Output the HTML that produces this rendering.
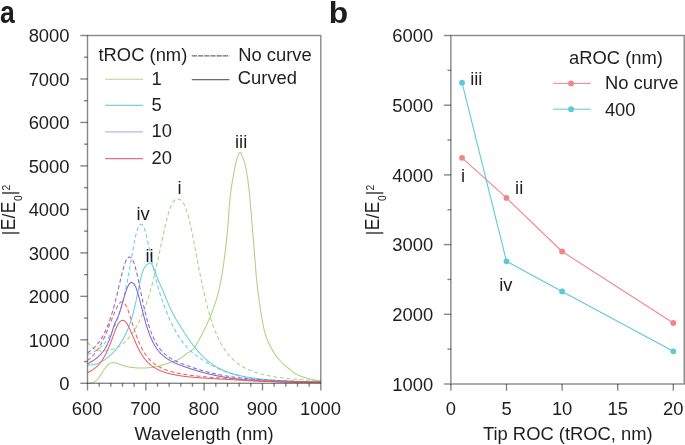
<!DOCTYPE html><html><head><meta charset="utf-8"><style>html,body{margin:0;padding:0;background:#fff;overflow:hidden}svg{display:block;will-change:transform;font-family:"Liberation Sans",sans-serif}</style></head><body><svg width="685" height="445" viewBox="0 0 685 445" fill="#1e1e1e">
<rect width="685" height="445" fill="#fff"/>
<clipPath id="ca"><rect x="87.5" y="35.5" width="233.3" height="348.3"/></clipPath>
<g clip-path="url(#ca)" fill="none" stroke-width="1.05">
<path d="M87.50,383.65 L87.97,383.59 L88.44,383.53 L88.90,383.46 L89.37,383.38 L89.84,383.30 L90.31,383.21 L90.77,383.12 L91.24,383.02 L91.71,382.91 L92.18,382.78 L92.64,382.61 L93.11,382.41 L93.58,382.17 L94.05,381.91 L94.51,381.64 L94.98,381.34 L95.45,381.00 L95.92,380.63 L96.38,380.23 L96.85,379.80 L97.32,379.35 L97.79,378.85 L98.25,378.32 L98.72,377.76 L99.19,377.18 L99.66,376.59 L100.12,375.96 L100.59,375.30 L101.06,374.61 L101.53,373.91 L101.99,373.16 L102.46,372.35 L102.93,371.53 L103.40,370.74 L103.86,369.99 L104.33,369.28 L104.80,368.59 L105.27,367.93 L105.73,367.31 L106.20,366.74 L106.67,366.19 L107.14,365.67 L107.60,365.18 L108.07,364.74 L108.54,364.36 L109.01,364.00 L109.47,363.66 L109.94,363.36 L110.41,363.11 L110.88,362.94 L111.34,362.81 L111.81,362.69 L112.28,362.62 L112.75,362.61 L113.21,362.65 L113.68,362.71 L114.15,362.80 L114.62,362.90 L115.08,362.99 L115.55,363.09 L116.02,363.21 L116.49,363.34 L116.95,363.48 L117.42,363.62 L117.89,363.75 L118.36,363.89 L118.82,364.02 L119.29,364.16 L119.76,364.31 L120.23,364.45 L120.69,364.61 L121.16,364.77 L121.63,364.93 L122.10,365.10 L122.57,365.27 L123.03,365.43 L123.50,365.59 L123.97,365.74 L124.44,365.88 L124.90,366.01 L125.37,366.15 L125.84,366.28 L126.31,366.41 L126.77,366.53 L127.24,366.65 L127.71,366.76 L128.18,366.86 L128.64,366.95 L129.11,367.03 L129.58,367.10 L130.05,367.18 L130.51,367.24 L130.98,367.31 L131.45,367.37 L131.92,367.42 L132.38,367.48 L132.85,367.53 L133.32,367.57 L133.79,367.62 L134.25,367.66 L134.72,367.70 L135.19,367.73 L135.66,367.77 L136.12,367.80 L136.59,367.83 L137.06,367.86 L137.53,367.88 L137.99,367.90 L138.46,367.92 L138.93,367.93 L139.40,367.95 L139.86,367.96 L140.33,367.97 L140.80,367.98 L141.27,367.99 L141.73,367.99 L142.20,368.00 L142.67,368.00 L143.14,367.99 L143.60,367.98 L144.07,367.96 L144.54,367.95 L145.01,367.93 L145.47,367.91 L145.94,367.89 L146.41,367.87 L146.88,367.84 L147.34,367.82 L147.81,367.79 L148.28,367.75 L148.75,367.72 L149.21,367.68 L149.68,367.64 L150.15,367.59 L150.62,367.55 L151.08,367.50 L151.55,367.45 L152.02,367.40 L152.49,367.34 L152.95,367.28 L153.42,367.22 L153.89,367.15 L154.36,367.08 L154.83,367.01 L155.29,366.93 L155.76,366.85 L156.23,366.76 L156.70,366.67 L157.16,366.57 L157.63,366.46 L158.10,366.35 L158.57,366.24 L159.03,366.12 L159.50,366.00 L159.97,365.87 L160.44,365.73 L160.90,365.58 L161.37,365.42 L161.84,365.25 L162.31,365.08 L162.77,364.91 L163.24,364.75 L163.71,364.58 L164.18,364.43 L164.64,364.28 L165.11,364.13 L165.58,363.98 L166.05,363.83 L166.51,363.68 L166.98,363.54 L167.45,363.39 L167.92,363.24 L168.38,363.09 L168.85,362.94 L169.32,362.79 L169.79,362.64 L170.25,362.49 L170.72,362.33 L171.19,362.18 L171.66,362.03 L172.12,361.87 L172.59,361.71 L173.06,361.56 L173.53,361.41 L173.99,361.25 L174.46,361.10 L174.93,360.95 L175.40,360.79 L175.86,360.63 L176.33,360.45 L176.80,360.27 L177.27,360.06 L177.73,359.85 L178.20,359.61 L178.67,359.35 L179.14,359.08 L179.60,358.79 L180.07,358.49 L180.54,358.18 L181.01,357.86 L181.47,357.53 L181.94,357.20 L182.41,356.85 L182.88,356.51 L183.34,356.16 L183.81,355.82 L184.28,355.48 L184.75,355.13 L185.21,354.80 L185.68,354.47 L186.15,354.15 L186.62,353.84 L187.08,353.53 L187.55,353.23 L188.02,352.93 L188.49,352.63 L188.96,352.32 L189.42,352.01 L189.89,351.69 L190.36,351.36 L190.83,351.01 L191.29,350.65 L191.76,350.27 L192.23,349.88 L192.70,349.46 L193.16,349.01 L193.63,348.54 L194.10,348.02 L194.57,347.43 L195.03,346.78 L195.50,346.07 L195.97,345.32 L196.44,344.54 L196.90,343.72 L197.37,342.89 L197.84,342.04 L198.31,341.19 L198.77,340.35 L199.24,339.52 L199.71,338.70 L200.18,337.85 L200.64,336.99 L201.11,336.11 L201.58,335.22 L202.05,334.32 L202.51,333.40 L202.98,332.47 L203.45,331.53 L203.92,330.58 L204.38,329.61 L204.85,328.63 L205.32,327.65 L205.79,326.65 L206.25,325.64 L206.72,324.62 L207.19,323.59 L207.66,322.55 L208.12,321.50 L208.59,320.44 L209.06,319.36 L209.53,318.27 L209.99,317.17 L210.46,316.05 L210.93,314.92 L211.40,313.76 L211.86,312.58 L212.33,311.38 L212.80,310.16 L213.27,308.90 L213.73,307.61 L214.20,306.29 L214.67,304.93 L215.14,303.52 L215.60,302.07 L216.07,300.56 L216.54,299.00 L217.01,297.37 L217.47,295.67 L217.94,293.90 L218.41,292.05 L218.88,290.11 L219.34,288.07 L219.81,285.94 L220.28,283.69 L220.75,281.33 L221.22,278.84 L221.68,276.23 L222.15,273.47 L222.62,270.57 L223.09,267.52 L223.55,264.31 L224.02,260.94 L224.49,257.40 L224.96,253.70 L225.42,249.83 L225.89,245.79 L226.36,241.60 L226.83,237.34 L227.29,232.85 L227.76,227.73 L228.23,221.73 L228.70,215.26 L229.16,208.78 L229.63,202.75 L230.10,197.63 L230.57,193.56 L231.03,189.93 L231.50,186.63 L231.97,183.59 L232.44,180.74 L232.90,178.00 L233.37,175.31 L233.84,172.66 L234.31,170.09 L234.77,167.63 L235.24,165.33 L235.71,163.22 L236.18,161.34 L236.64,159.65 L237.11,158.11 L237.58,156.74 L238.05,155.60 L238.51,154.57 L238.98,153.56 L239.45,152.72 L239.92,152.20 L240.38,152.17 L240.85,152.87 L241.32,154.01 L241.79,155.27 L242.25,156.36 L242.72,157.41 L243.19,158.51 L243.66,159.72 L244.12,161.09 L244.59,162.67 L245.06,164.49 L245.53,166.55 L245.99,168.83 L246.46,171.32 L246.93,174.00 L247.40,176.86 L247.86,180.13 L248.33,183.85 L248.80,187.93 L249.27,192.28 L249.73,196.81 L250.20,201.78 L250.67,207.22 L251.14,212.85 L251.60,218.46 L252.07,224.21 L252.54,230.04 L253.01,235.87 L253.47,241.57 L253.94,247.18 L254.41,252.77 L254.88,258.40 L255.35,264.27 L255.81,270.43 L256.28,276.30 L256.75,281.29 L257.22,285.58 L257.68,289.47 L258.15,293.09 L258.62,296.54 L259.09,299.95 L259.55,303.35 L260.02,306.66 L260.49,309.84 L260.96,312.86 L261.42,315.68 L261.89,318.38 L262.36,321.03 L262.83,323.58 L263.29,325.98 L263.76,328.21 L264.23,330.21 L264.70,331.95 L265.16,333.52 L265.63,334.99 L266.10,336.37 L266.57,337.67 L267.03,338.89 L267.50,340.05 L267.97,341.15 L268.44,342.21 L268.90,343.24 L269.37,344.24 L269.84,345.21 L270.31,346.16 L270.77,347.08 L271.24,347.97 L271.71,348.83 L272.18,349.67 L272.64,350.48 L273.11,351.27 L273.58,352.03 L274.05,352.77 L274.51,353.49 L274.98,354.19 L275.45,354.87 L275.92,355.53 L276.38,356.18 L276.85,356.80 L277.32,357.41 L277.79,358.00 L278.25,358.58 L278.72,359.14 L279.19,359.69 L279.66,360.23 L280.12,360.75 L280.59,361.25 L281.06,361.75 L281.53,362.23 L281.99,362.71 L282.46,363.16 L282.93,363.61 L283.40,364.04 L283.86,364.47 L284.33,364.88 L284.80,365.28 L285.27,365.68 L285.73,366.08 L286.20,366.46 L286.67,366.85 L287.14,367.23 L287.61,367.61 L288.07,367.98 L288.54,368.36 L289.01,368.75 L289.48,369.14 L289.94,369.53 L290.41,369.92 L290.88,370.31 L291.35,370.70 L291.81,371.09 L292.28,371.46 L292.75,371.83 L293.22,372.20 L293.68,372.55 L294.15,372.88 L294.62,373.21 L295.09,373.52 L295.55,373.81 L296.02,374.08 L296.49,374.33 L296.96,374.57 L297.42,374.79 L297.89,375.01 L298.36,375.22 L298.83,375.42 L299.29,375.61 L299.76,375.80 L300.23,375.98 L300.70,376.16 L301.16,376.33 L301.63,376.49 L302.10,376.65 L302.57,376.81 L303.03,376.96 L303.50,377.11 L303.97,377.26 L304.44,377.40 L304.90,377.54 L305.37,377.68 L305.84,377.82 L306.31,377.95 L306.77,378.08 L307.24,378.21 L307.71,378.33 L308.18,378.45 L308.64,378.57 L309.11,378.68 L309.58,378.80 L310.05,378.91 L310.51,379.02 L310.98,379.13 L311.45,379.23 L311.92,379.34 L312.38,379.45 L312.85,379.55 L313.32,379.65 L313.79,379.76 L314.25,379.86 L314.72,379.96 L315.19,380.05 L315.66,380.15 L316.12,380.25 L316.59,380.34 L317.06,380.43 L317.53,380.53 L317.99,380.62 L318.46,380.71 L318.93,380.79 L319.40,380.88 L319.86,380.96 L320.33,381.05 L320.80,381.13" stroke="#a8d47e"/>
<path d="M87.50,342.52 L87.97,343.07 L88.44,343.60 L88.90,344.12 L89.37,344.63 L89.84,345.13 L90.31,345.61 L90.77,346.07 L91.24,346.51 L91.71,346.93 L92.18,347.33 L92.64,347.71 L93.11,348.07 L93.58,348.40 L94.05,348.71 L94.51,349.00 L94.98,349.27 L95.45,349.51 L95.92,349.73 L96.38,349.93 L96.85,350.11 L97.32,350.28 L97.79,350.42 L98.25,350.55 L98.72,350.66 L99.19,350.75 L99.66,350.83 L100.12,350.90 L100.59,350.95 L101.06,350.99 L101.53,351.02 L101.99,351.04 L102.46,351.05 L102.93,351.04 L103.40,351.03 L103.86,351.01 L104.33,350.98 L104.80,350.95 L105.27,350.90 L105.73,350.85 L106.20,350.80 L106.67,350.73 L107.14,350.66 L107.60,350.58 L108.07,350.50 L108.54,350.41 L109.01,350.31 L109.47,350.20 L109.94,350.09 L110.41,349.97 L110.88,349.85 L111.34,349.71 L111.81,349.57 L112.28,349.42 L112.75,349.27 L113.21,349.11 L113.68,348.93 L114.15,348.76 L114.62,348.57 L115.08,348.37 L115.55,348.17 L116.02,347.95 L116.49,347.73 L116.95,347.50 L117.42,347.26 L117.89,347.00 L118.36,346.74 L118.82,346.47 L119.29,346.19 L119.76,345.90 L120.23,345.60 L120.69,345.28 L121.16,344.96 L121.63,344.62 L122.10,344.28 L122.57,343.92 L123.03,343.55 L123.50,343.17 L123.97,342.77 L124.44,342.36 L124.90,341.95 L125.37,341.51 L125.84,341.07 L126.31,340.61 L126.77,340.13 L127.24,339.65 L127.71,339.14 L128.18,338.63 L128.64,338.10 L129.11,337.55 L129.58,336.99 L130.05,336.41 L130.51,335.81 L130.98,335.20 L131.45,334.57 L131.92,333.93 L132.38,333.27 L132.85,332.58 L133.32,331.89 L133.79,331.17 L134.25,330.43 L134.72,329.68 L135.19,328.90 L135.66,328.11 L136.12,327.29 L136.59,326.46 L137.06,325.60 L137.53,324.73 L137.99,323.83 L138.46,322.91 L138.93,321.97 L139.40,321.00 L139.86,320.02 L140.33,319.00 L140.80,317.97 L141.27,316.91 L141.73,315.83 L142.20,314.72 L142.67,313.59 L143.14,312.43 L143.60,311.24 L144.07,310.03 L144.54,308.79 L145.01,307.53 L145.47,306.23 L145.94,304.91 L146.41,303.55 L146.88,302.17 L147.34,300.76 L147.81,299.31 L148.28,297.83 L148.75,296.32 L149.21,294.78 L149.68,293.20 L150.15,291.59 L150.62,289.95 L151.08,288.27 L151.55,286.55 L152.02,284.80 L152.49,283.02 L152.95,281.19 L153.42,279.34 L153.89,277.45 L154.36,275.52 L154.83,273.56 L155.29,271.56 L155.76,269.54 L156.23,267.48 L156.70,265.40 L157.16,263.28 L157.63,261.14 L158.10,258.98 L158.57,256.80 L159.03,254.60 L159.50,252.39 L159.97,250.16 L160.44,247.93 L160.90,245.70 L161.37,243.46 L161.84,241.23 L162.31,239.01 L162.77,236.81 L163.24,234.63 L163.71,232.47 L164.18,230.34 L164.64,228.25 L165.11,226.19 L165.58,224.19 L166.05,222.23 L166.51,220.34 L166.98,218.50 L167.45,216.73 L167.92,215.03 L168.38,213.41 L168.85,211.86 L169.32,210.40 L169.79,209.03 L170.25,207.74 L170.72,206.54 L171.19,205.44 L171.66,204.43 L172.12,203.51 L172.59,202.69 L173.06,201.96 L173.53,201.32 L173.99,200.77 L174.46,200.31 L174.93,199.93 L175.40,199.64 L175.86,199.41 L176.33,199.26 L176.80,199.17 L177.27,199.14 L177.73,199.15 L178.20,199.20 L178.67,199.26 L179.14,199.35 L179.60,199.48 L180.07,199.66 L180.54,199.90 L181.01,200.21 L181.47,200.59 L181.94,201.05 L182.41,201.59 L182.88,202.22 L183.34,202.94 L183.81,203.75 L184.28,204.66 L184.75,205.66 L185.21,206.76 L185.68,207.96 L186.15,209.25 L186.62,210.63 L187.08,212.11 L187.55,213.68 L188.02,215.34 L188.49,217.08 L188.96,218.91 L189.42,220.81 L189.89,222.78 L190.36,224.82 L190.83,226.93 L191.29,229.10 L191.76,231.32 L192.23,233.58 L192.70,235.89 L193.16,238.24 L193.63,240.62 L194.10,243.03 L194.57,245.46 L195.03,247.91 L195.50,250.37 L195.97,252.84 L196.44,255.31 L196.90,257.78 L197.37,260.24 L197.84,262.70 L198.31,265.14 L198.77,267.57 L199.24,269.97 L199.71,272.36 L200.18,274.72 L200.64,277.05 L201.11,279.35 L201.58,281.63 L202.05,283.86 L202.51,286.07 L202.98,288.24 L203.45,290.37 L203.92,292.46 L204.38,294.52 L204.85,296.53 L205.32,298.51 L205.79,300.44 L206.25,302.34 L206.72,304.19 L207.19,306.01 L207.66,307.78 L208.12,309.51 L208.59,311.21 L209.06,312.86 L209.53,314.48 L209.99,316.06 L210.46,317.59 L210.93,319.10 L211.40,320.56 L211.86,321.99 L212.33,323.38 L212.80,324.74 L213.27,326.06 L213.73,327.35 L214.20,328.60 L214.67,329.83 L215.14,331.02 L215.60,332.18 L216.07,333.31 L216.54,334.41 L217.01,335.48 L217.47,336.53 L217.94,337.55 L218.41,338.54 L218.88,339.50 L219.34,340.44 L219.81,341.36 L220.28,342.25 L220.75,343.12 L221.22,343.96 L221.68,344.79 L222.15,345.59 L222.62,346.37 L223.09,347.13 L223.55,347.88 L224.02,348.60 L224.49,349.30 L224.96,349.99 L225.42,350.66 L225.89,351.31 L226.36,351.95 L226.83,352.57 L227.29,353.17 L227.76,353.76 L228.23,354.33 L228.70,354.89 L229.16,355.44 L229.63,355.97 L230.10,356.49 L230.57,356.99 L231.03,357.49 L231.50,357.97 L231.97,358.44 L232.44,358.90 L232.90,359.35 L233.37,359.78 L233.84,360.21 L234.31,360.63 L234.77,361.03 L235.24,361.43 L235.71,361.82 L236.18,362.20 L236.64,362.57 L237.11,362.93 L237.58,363.28 L238.05,363.62 L238.51,363.96 L238.98,364.29 L239.45,364.61 L239.92,364.93 L240.38,365.24 L240.85,365.54 L241.32,365.83 L241.79,366.12 L242.25,366.40 L242.72,366.67 L243.19,366.94 L243.66,367.21 L244.12,367.46 L244.59,367.72 L245.06,367.96 L245.53,368.21 L245.99,368.44 L246.46,368.67 L246.93,368.90 L247.40,369.12 L247.86,369.34 L248.33,369.55 L248.80,369.76 L249.27,369.96 L249.73,370.16 L250.20,370.36 L250.67,370.55 L251.14,370.74 L251.60,370.93 L252.07,371.11 L252.54,371.28 L253.01,371.46 L253.47,371.63 L253.94,371.79 L254.41,371.96 L254.88,372.12 L255.35,372.28 L255.81,372.43 L256.28,372.58 L256.75,372.73 L257.22,372.88 L257.68,373.02 L258.15,373.16 L258.62,373.30 L259.09,373.43 L259.55,373.57 L260.02,373.70 L260.49,373.82 L260.96,373.95 L261.42,374.07 L261.89,374.20 L262.36,374.31 L262.83,374.43 L263.29,374.55 L263.76,374.66 L264.23,374.77 L264.70,374.88 L265.16,374.99 L265.63,375.09 L266.10,375.19 L266.57,375.29 L267.03,375.39 L267.50,375.49 L267.97,375.59 L268.44,375.68 L268.90,375.78 L269.37,375.87 L269.84,375.96 L270.31,376.05 L270.77,376.13 L271.24,376.22 L271.71,376.30 L272.18,376.39 L272.64,376.47 L273.11,376.55 L273.58,376.63 L274.05,376.71 L274.51,376.78 L274.98,376.86 L275.45,376.93 L275.92,377.00 L276.38,377.08 L276.85,377.15 L277.32,377.22 L277.79,377.28 L278.25,377.35 L278.72,377.42 L279.19,377.48 L279.66,377.55 L280.12,377.61 L280.59,377.67 L281.06,377.73 L281.53,377.79 L281.99,377.85 L282.46,377.91 L282.93,377.97 L283.40,378.03 L283.86,378.08 L284.33,378.14 L284.80,378.19 L285.27,378.25 L285.73,378.30 L286.20,378.35 L286.67,378.40 L287.14,378.45 L287.61,378.50 L288.07,378.55 L288.54,378.60 L289.01,378.65 L289.48,378.70 L289.94,378.74 L290.41,378.79 L290.88,378.83 L291.35,378.88 L291.81,378.92 L292.28,378.97 L292.75,379.01 L293.22,379.05 L293.68,379.09 L294.15,379.13 L294.62,379.17 L295.09,379.21 L295.55,379.25 L296.02,379.29 L296.49,379.33 L296.96,379.37 L297.42,379.41 L297.89,379.44 L298.36,379.48 L298.83,379.52 L299.29,379.55 L299.76,379.59 L300.23,379.62 L300.70,379.65 L301.16,379.69 L301.63,379.72 L302.10,379.75 L302.57,379.79 L303.03,379.82 L303.50,379.85 L303.97,379.88 L304.44,379.91 L304.90,379.94 L305.37,379.97 L305.84,380.00 L306.31,380.03 L306.77,380.06 L307.24,380.09 L307.71,380.12 L308.18,380.15 L308.64,380.17 L309.11,380.20 L309.58,380.23 L310.05,380.25 L310.51,380.28 L310.98,380.31 L311.45,380.33 L311.92,380.36 L312.38,380.38 L312.85,380.41 L313.32,380.43 L313.79,380.45 L314.25,380.48 L314.72,380.50 L315.19,380.53 L315.66,380.55 L316.12,380.57 L316.59,380.59 L317.06,380.62 L317.53,380.64 L317.99,380.66 L318.46,380.68 L318.93,380.70 L319.40,380.72 L319.86,380.74 L320.33,380.76 L320.80,380.79" stroke="#a8d47e" stroke-dasharray="4,2.6"/>
<path d="M87.50,354.27 L87.97,354.16 L88.44,354.04 L88.90,353.90 L89.37,353.76 L89.84,353.62 L90.31,353.46 L90.77,353.29 L91.24,353.11 L91.71,352.93 L92.18,352.73 L92.64,352.52 L93.11,352.30 L93.58,352.07 L94.05,351.83 L94.51,351.58 L94.98,351.32 L95.45,351.05 L95.92,350.76 L96.38,350.47 L96.85,350.16 L97.32,349.84 L97.79,349.50 L98.25,349.16 L98.72,348.80 L99.19,348.42 L99.66,348.04 L100.12,347.64 L100.59,347.23 L101.06,346.80 L101.53,346.35 L101.99,345.90 L102.46,345.42 L102.93,344.94 L103.40,344.43 L103.86,343.91 L104.33,343.37 L104.80,342.82 L105.27,342.25 L105.73,341.66 L106.20,341.05 L106.67,340.42 L107.14,339.77 L107.60,339.10 L108.07,338.41 L108.54,337.70 L109.01,336.97 L109.47,336.22 L109.94,335.44 L110.41,334.64 L110.88,333.81 L111.34,332.96 L111.81,332.08 L112.28,331.17 L112.75,330.24 L113.21,329.27 L113.68,328.28 L114.15,327.26 L114.62,326.20 L115.08,325.11 L115.55,323.99 L116.02,322.83 L116.49,321.63 L116.95,320.40 L117.42,319.13 L117.89,317.82 L118.36,316.47 L118.82,315.07 L119.29,313.64 L119.76,312.15 L120.23,310.62 L120.69,309.05 L121.16,307.42 L121.63,305.74 L122.10,304.02 L122.57,302.23 L123.03,300.40 L123.50,298.51 L123.97,296.56 L124.44,294.56 L124.90,292.50 L125.37,290.38 L125.84,288.20 L126.31,285.96 L126.77,283.67 L127.24,281.32 L127.71,278.92 L128.18,276.46 L128.64,273.96 L129.11,271.41 L129.58,268.82 L130.05,266.20 L130.51,263.55 L130.98,260.89 L131.45,258.21 L131.92,255.54 L132.38,252.88 L132.85,250.25 L133.32,247.67 L133.79,245.14 L134.25,242.70 L134.72,240.34 L135.19,238.09 L135.66,235.98 L136.12,234.00 L136.59,232.19 L137.06,230.54 L137.53,229.08 L137.99,227.82 L138.46,226.75 L138.93,225.89 L139.40,225.22 L139.86,224.75 L140.33,224.45 L140.80,224.31 L141.27,224.28 L141.73,224.40 L142.20,224.69 L142.67,225.16 L143.14,225.83 L143.60,226.68 L144.07,227.73 L144.54,228.96 L145.01,230.37 L145.47,231.94 L145.94,233.66 L146.41,235.51 L146.88,237.48 L147.34,239.55 L147.81,241.69 L148.28,243.90 L148.75,246.16 L149.21,248.45 L149.68,250.76 L150.15,253.08 L150.62,255.39 L151.08,257.69 L151.55,259.97 L152.02,262.22 L152.49,264.43 L152.95,266.61 L153.42,268.73 L153.89,270.81 L154.36,272.85 L154.83,274.83 L155.29,276.76 L155.76,278.65 L156.23,280.48 L156.70,282.27 L157.16,284.01 L157.63,285.71 L158.10,287.36 L158.57,288.97 L159.03,290.55 L159.50,292.08 L159.97,293.58 L160.44,295.05 L160.90,296.49 L161.37,297.89 L161.84,299.27 L162.31,300.62 L162.77,301.95 L163.24,303.25 L163.71,304.53 L164.18,305.79 L164.64,307.03 L165.11,308.25 L165.58,309.45 L166.05,310.63 L166.51,311.79 L166.98,312.94 L167.45,314.07 L167.92,315.18 L168.38,316.28 L168.85,317.36 L169.32,318.43 L169.79,319.47 L170.25,320.51 L170.72,321.52 L171.19,322.52 L171.66,323.51 L172.12,324.48 L172.59,325.43 L173.06,326.37 L173.53,327.29 L173.99,328.19 L174.46,329.08 L174.93,329.95 L175.40,330.81 L175.86,331.65 L176.33,332.47 L176.80,333.28 L177.27,334.07 L177.73,334.84 L178.20,335.60 L178.67,336.35 L179.14,337.08 L179.60,337.79 L180.07,338.49 L180.54,339.17 L181.01,339.84 L181.47,340.50 L181.94,341.14 L182.41,341.77 L182.88,342.38 L183.34,342.98 L183.81,343.57 L184.28,344.14 L184.75,344.70 L185.21,345.25 L185.68,345.79 L186.15,346.32 L186.62,346.83 L187.08,347.34 L187.55,347.83 L188.02,348.32 L188.49,348.79 L188.96,349.26 L189.42,349.71 L189.89,350.16 L190.36,350.60 L190.83,351.03 L191.29,351.45 L191.76,351.87 L192.23,352.27 L192.70,352.67 L193.16,353.07 L193.63,353.45 L194.10,353.83 L194.57,354.21 L195.03,354.58 L195.50,354.94 L195.97,355.30 L196.44,355.65 L196.90,356.00 L197.37,356.34 L197.84,356.68 L198.31,357.01 L198.77,357.34 L199.24,357.67 L199.71,357.99 L200.18,358.31 L200.64,358.62 L201.11,358.93 L201.58,359.24 L202.05,359.54 L202.51,359.85 L202.98,360.14 L203.45,360.44 L203.92,360.73 L204.38,361.02 L204.85,361.31 L205.32,361.60 L205.79,361.88 L206.25,362.16 L206.72,362.44 L207.19,362.72 L207.66,362.99 L208.12,363.26 L208.59,363.53 L209.06,363.80 L209.53,364.06 L209.99,364.33 L210.46,364.59 L210.93,364.84 L211.40,365.10 L211.86,365.36 L212.33,365.61 L212.80,365.86 L213.27,366.10 L213.73,366.35 L214.20,366.59 L214.67,366.83 L215.14,367.07 L215.60,367.31 L216.07,367.54 L216.54,367.78 L217.01,368.01 L217.47,368.23 L217.94,368.46 L218.41,368.68 L218.88,368.90 L219.34,369.12 L219.81,369.33 L220.28,369.55 L220.75,369.76 L221.22,369.97 L221.68,370.17 L222.15,370.37 L222.62,370.57 L223.09,370.77 L223.55,370.97 L224.02,371.16 L224.49,371.35 L224.96,371.54 L225.42,371.72 L225.89,371.91 L226.36,372.09 L226.83,372.26 L227.29,372.44 L227.76,372.61 L228.23,372.78 L228.70,372.95 L229.16,373.11 L229.63,373.28 L230.10,373.44 L230.57,373.59 L231.03,373.75 L231.50,373.90 L231.97,374.05 L232.44,374.20 L232.90,374.35 L233.37,374.49 L233.84,374.63 L234.31,374.77 L234.77,374.90 L235.24,375.04 L235.71,375.17 L236.18,375.30 L236.64,375.42 L237.11,375.55 L237.58,375.67 L238.05,375.79 L238.51,375.91 L238.98,376.03 L239.45,376.14 L239.92,376.25 L240.38,376.36 L240.85,376.47 L241.32,376.58 L241.79,376.68 L242.25,376.79 L242.72,376.89 L243.19,376.99 L243.66,377.08 L244.12,377.18 L244.59,377.27 L245.06,377.36 L245.53,377.45 L245.99,377.54 L246.46,377.63 L246.93,377.72 L247.40,377.80 L247.86,377.88 L248.33,377.96 L248.80,378.04 L249.27,378.12 L249.73,378.20 L250.20,378.27 L250.67,378.35 L251.14,378.42 L251.60,378.49 L252.07,378.56 L252.54,378.63 L253.01,378.69 L253.47,378.76 L253.94,378.83 L254.41,378.89 L254.88,378.95 L255.35,379.01 L255.81,379.07 L256.28,379.13 L256.75,379.19 L257.22,379.25 L257.68,379.30 L258.15,379.36 L258.62,379.41 L259.09,379.47 L259.55,379.52 L260.02,379.57 L260.49,379.62 L260.96,379.67 L261.42,379.72 L261.89,379.77 L262.36,379.81 L262.83,379.86 L263.29,379.90 L263.76,379.95 L264.23,379.99 L264.70,380.03 L265.16,380.08 L265.63,380.12 L266.10,380.16 L266.57,380.20 L267.03,380.24 L267.50,380.28 L267.97,380.31 L268.44,380.35 L268.90,380.39 L269.37,380.42 L269.84,380.46 L270.31,380.49 L270.77,380.53 L271.24,380.56 L271.71,380.60 L272.18,380.63 L272.64,380.66 L273.11,380.69 L273.58,380.72 L274.05,380.75 L274.51,380.78 L274.98,380.81 L275.45,380.84 L275.92,380.87 L276.38,380.90 L276.85,380.93 L277.32,380.95 L277.79,380.98 L278.25,381.01 L278.72,381.03 L279.19,381.06 L279.66,381.08 L280.12,381.11 L280.59,381.13 L281.06,381.16 L281.53,381.18 L281.99,381.20 L282.46,381.23 L282.93,381.25 L283.40,381.27 L283.86,381.29 L284.33,381.31 L284.80,381.33 L285.27,381.36 L285.73,381.38 L286.20,381.40 L286.67,381.42 L287.14,381.44 L287.61,381.45 L288.07,381.47 L288.54,381.49 L289.01,381.51 L289.48,381.53 L289.94,381.55 L290.41,381.56 L290.88,381.58 L291.35,381.60 L291.81,381.62 L292.28,381.63 L292.75,381.65 L293.22,381.67 L293.68,381.68 L294.15,381.70 L294.62,381.71 L295.09,381.73 L295.55,381.74 L296.02,381.76 L296.49,381.77 L296.96,381.79 L297.42,381.80 L297.89,381.82 L298.36,381.83 L298.83,381.84 L299.29,381.86 L299.76,381.87 L300.23,381.88 L300.70,381.90 L301.16,381.91 L301.63,381.92 L302.10,381.93 L302.57,381.95 L303.03,381.96 L303.50,381.97 L303.97,381.98 L304.44,381.99 L304.90,382.01 L305.37,382.02 L305.84,382.03 L306.31,382.04 L306.77,382.05 L307.24,382.06 L307.71,382.07 L308.18,382.08 L308.64,382.09 L309.11,382.10 L309.58,382.11 L310.05,382.12 L310.51,382.13 L310.98,382.14 L311.45,382.15 L311.92,382.16 L312.38,382.17 L312.85,382.18 L313.32,382.19 L313.79,382.20 L314.25,382.21 L314.72,382.22 L315.19,382.22 L315.66,382.23 L316.12,382.24 L316.59,382.25 L317.06,382.26 L317.53,382.27 L317.99,382.28 L318.46,382.28 L318.93,382.29 L319.40,382.30 L319.86,382.31 L320.33,382.31 L320.80,382.32" stroke="#6acde0" stroke-dasharray="4,2.6"/>
<path d="M87.50,365.07 L87.97,365.08 L88.44,365.08 L88.90,365.07 L89.37,365.06 L89.84,365.03 L90.31,365.00 L90.77,364.96 L91.24,364.91 L91.71,364.85 L92.18,364.78 L92.64,364.71 L93.11,364.62 L93.58,364.53 L94.05,364.43 L94.51,364.32 L94.98,364.20 L95.45,364.07 L95.92,363.93 L96.38,363.79 L96.85,363.63 L97.32,363.47 L97.79,363.30 L98.25,363.12 L98.72,362.93 L99.19,362.74 L99.66,362.53 L100.12,362.32 L100.59,362.09 L101.06,361.86 L101.53,361.62 L101.99,361.37 L102.46,361.11 L102.93,360.84 L103.40,360.57 L103.86,360.28 L104.33,359.99 L104.80,359.68 L105.27,359.37 L105.73,359.04 L106.20,358.71 L106.67,358.37 L107.14,358.02 L107.60,357.66 L108.07,357.28 L108.54,356.90 L109.01,356.51 L109.47,356.11 L109.94,355.70 L110.41,355.27 L110.88,354.84 L111.34,354.39 L111.81,353.94 L112.28,353.47 L112.75,352.99 L113.21,352.51 L113.68,352.00 L114.15,351.49 L114.62,350.97 L115.08,350.43 L115.55,349.88 L116.02,349.32 L116.49,348.74 L116.95,348.15 L117.42,347.55 L117.89,346.93 L118.36,346.30 L118.82,345.65 L119.29,344.99 L119.76,344.32 L120.23,343.62 L120.69,342.91 L121.16,342.18 L121.63,341.44 L122.10,340.67 L122.57,339.89 L123.03,339.08 L123.50,338.25 L123.97,337.40 L124.44,336.53 L124.90,335.63 L125.37,334.70 L125.84,333.75 L126.31,332.76 L126.77,331.75 L127.24,330.70 L127.71,329.61 L128.18,328.49 L128.64,327.32 L129.11,326.11 L129.58,324.85 L130.05,323.54 L130.51,322.18 L130.98,320.76 L131.45,319.29 L131.92,317.74 L132.38,316.14 L132.85,314.46 L133.32,312.71 L133.79,310.89 L134.25,308.99 L134.72,307.02 L135.19,304.97 L135.66,302.85 L136.12,300.67 L136.59,298.43 L137.06,296.15 L137.53,293.83 L137.99,291.49 L138.46,289.15 L138.93,286.83 L139.40,284.55 L139.86,282.34 L140.33,280.21 L140.80,278.20 L141.27,276.31 L141.73,274.57 L142.20,272.98 L142.67,271.56 L143.14,270.30 L143.60,269.20 L144.07,268.26 L144.54,267.44 L145.01,266.75 L145.47,266.16 L145.94,265.65 L146.41,265.19 L146.88,264.76 L147.34,264.33 L147.81,263.93 L148.28,263.58 L148.75,263.29 L149.21,263.10 L149.68,263.01 L150.15,263.05 L150.62,263.23 L151.08,263.55 L151.55,264.03 L152.02,264.66 L152.49,265.42 L152.95,266.33 L153.42,267.34 L153.89,268.46 L154.36,269.66 L154.83,270.91 L155.29,272.19 L155.76,273.50 L156.23,274.80 L156.70,276.08 L157.16,277.34 L157.63,278.56 L158.10,279.74 L158.57,280.88 L159.03,281.99 L159.50,283.06 L159.97,284.11 L160.44,285.15 L160.90,286.17 L161.37,287.20 L161.84,288.25 L162.31,289.32 L162.77,290.41 L163.24,291.52 L163.71,292.65 L164.18,293.79 L164.64,294.93 L165.11,296.08 L165.58,297.23 L166.05,298.38 L166.51,299.52 L166.98,300.66 L167.45,301.78 L167.92,302.88 L168.38,303.97 L168.85,305.04 L169.32,306.09 L169.79,307.13 L170.25,308.14 L170.72,309.13 L171.19,310.11 L171.66,311.06 L172.12,311.99 L172.59,312.91 L173.06,313.81 L173.53,314.70 L173.99,315.57 L174.46,316.43 L174.93,317.27 L175.40,318.10 L175.86,318.92 L176.33,319.74 L176.80,320.54 L177.27,321.33 L177.73,322.12 L178.20,322.90 L178.67,323.67 L179.14,324.43 L179.60,325.19 L180.07,325.95 L180.54,326.70 L181.01,327.45 L181.47,328.19 L181.94,328.92 L182.41,329.66 L182.88,330.39 L183.34,331.11 L183.81,331.83 L184.28,332.55 L184.75,333.26 L185.21,333.97 L185.68,334.67 L186.15,335.37 L186.62,336.07 L187.08,336.76 L187.55,337.45 L188.02,338.13 L188.49,338.81 L188.96,339.48 L189.42,340.14 L189.89,340.80 L190.36,341.46 L190.83,342.11 L191.29,342.75 L191.76,343.39 L192.23,344.02 L192.70,344.64 L193.16,345.26 L193.63,345.87 L194.10,346.47 L194.57,347.07 L195.03,347.66 L195.50,348.24 L195.97,348.82 L196.44,349.38 L196.90,349.94 L197.37,350.50 L197.84,351.04 L198.31,351.58 L198.77,352.11 L199.24,352.63 L199.71,353.15 L200.18,353.65 L200.64,354.15 L201.11,354.64 L201.58,355.13 L202.05,355.60 L202.51,356.07 L202.98,356.53 L203.45,356.99 L203.92,357.43 L204.38,357.87 L204.85,358.30 L205.32,358.73 L205.79,359.14 L206.25,359.55 L206.72,359.96 L207.19,360.35 L207.66,360.74 L208.12,361.12 L208.59,361.49 L209.06,361.86 L209.53,362.22 L209.99,362.58 L210.46,362.93 L210.93,363.27 L211.40,363.60 L211.86,363.93 L212.33,364.26 L212.80,364.57 L213.27,364.88 L213.73,365.19 L214.20,365.49 L214.67,365.78 L215.14,366.07 L215.60,366.35 L216.07,366.63 L216.54,366.91 L217.01,367.17 L217.47,367.43 L217.94,367.69 L218.41,367.94 L218.88,368.19 L219.34,368.43 L219.81,368.67 L220.28,368.91 L220.75,369.14 L221.22,369.36 L221.68,369.58 L222.15,369.80 L222.62,370.01 L223.09,370.22 L223.55,370.42 L224.02,370.62 L224.49,370.82 L224.96,371.01 L225.42,371.20 L225.89,371.39 L226.36,371.57 L226.83,371.75 L227.29,371.93 L227.76,372.10 L228.23,372.27 L228.70,372.43 L229.16,372.60 L229.63,372.76 L230.10,372.91 L230.57,373.07 L231.03,373.22 L231.50,373.37 L231.97,373.51 L232.44,373.65 L232.90,373.79 L233.37,373.93 L233.84,374.07 L234.31,374.20 L234.77,374.33 L235.24,374.46 L235.71,374.58 L236.18,374.71 L236.64,374.83 L237.11,374.95 L237.58,375.06 L238.05,375.18 L238.51,375.29 L238.98,375.40 L239.45,375.51 L239.92,375.62 L240.38,375.72 L240.85,375.83 L241.32,375.93 L241.79,376.03 L242.25,376.12 L242.72,376.22 L243.19,376.31 L243.66,376.41 L244.12,376.50 L244.59,376.59 L245.06,376.68 L245.53,376.76 L245.99,376.85 L246.46,376.93 L246.93,377.01 L247.40,377.10 L247.86,377.18 L248.33,377.25 L248.80,377.33 L249.27,377.41 L249.73,377.48 L250.20,377.55 L250.67,377.63 L251.14,377.70 L251.60,377.77 L252.07,377.83 L252.54,377.90 L253.01,377.97 L253.47,378.03 L253.94,378.10 L254.41,378.16 L254.88,378.22 L255.35,378.28 L255.81,378.34 L256.28,378.40 L256.75,378.46 L257.22,378.52 L257.68,378.58 L258.15,378.63 L258.62,378.69 L259.09,378.74 L259.55,378.79 L260.02,378.85 L260.49,378.90 L260.96,378.95 L261.42,379.00 L261.89,379.05 L262.36,379.10 L262.83,379.14 L263.29,379.19 L263.76,379.24 L264.23,379.28 L264.70,379.33 L265.16,379.37 L265.63,379.41 L266.10,379.46 L266.57,379.50 L267.03,379.54 L267.50,379.58 L267.97,379.62 L268.44,379.66 L268.90,379.70 L269.37,379.74 L269.84,379.78 L270.31,379.82 L270.77,379.85 L271.24,379.89 L271.71,379.93 L272.18,379.96 L272.64,380.00 L273.11,380.03 L273.58,380.07 L274.05,380.10 L274.51,380.13 L274.98,380.17 L275.45,380.20 L275.92,380.23 L276.38,380.26 L276.85,380.29 L277.32,380.32 L277.79,380.35 L278.25,380.38 L278.72,380.41 L279.19,380.44 L279.66,380.47 L280.12,380.50 L280.59,380.52 L281.06,380.55 L281.53,380.58 L281.99,380.61 L282.46,380.63 L282.93,380.66 L283.40,380.68 L283.86,380.71 L284.33,380.73 L284.80,380.76 L285.27,380.78 L285.73,380.81 L286.20,380.83 L286.67,380.85 L287.14,380.88 L287.61,380.90 L288.07,380.92 L288.54,380.94 L289.01,380.97 L289.48,380.99 L289.94,381.01 L290.41,381.03 L290.88,381.05 L291.35,381.07 L291.81,381.09 L292.28,381.11 L292.75,381.13 L293.22,381.15 L293.68,381.17 L294.15,381.19 L294.62,381.21 L295.09,381.23 L295.55,381.25 L296.02,381.26 L296.49,381.28 L296.96,381.30 L297.42,381.32 L297.89,381.33 L298.36,381.35 L298.83,381.37 L299.29,381.39 L299.76,381.40 L300.23,381.42 L300.70,381.43 L301.16,381.45 L301.63,381.47 L302.10,381.48 L302.57,381.50 L303.03,381.51 L303.50,381.53 L303.97,381.54 L304.44,381.56 L304.90,381.57 L305.37,381.59 L305.84,381.60 L306.31,381.61 L306.77,381.63 L307.24,381.64 L307.71,381.66 L308.18,381.67 L308.64,381.68 L309.11,381.70 L309.58,381.71 L310.05,381.72 L310.51,381.73 L310.98,381.75 L311.45,381.76 L311.92,381.77 L312.38,381.78 L312.85,381.80 L313.32,381.81 L313.79,381.82 L314.25,381.83 L314.72,381.84 L315.19,381.85 L315.66,381.87 L316.12,381.88 L316.59,381.89 L317.06,381.90 L317.53,381.91 L317.99,381.92 L318.46,381.93 L318.93,381.94 L319.40,381.95 L319.86,381.96 L320.33,381.97 L320.80,381.98" stroke="#6acde0"/>
<path d="M87.50,352.94 L87.97,352.60 L88.44,352.25 L88.90,351.90 L89.37,351.55 L89.84,351.20 L90.31,350.84 L90.77,350.47 L91.24,350.10 L91.71,349.72 L92.18,349.33 L92.64,348.94 L93.11,348.53 L93.58,348.11 L94.05,347.67 L94.51,347.22 L94.98,346.76 L95.45,346.29 L95.92,345.80 L96.38,345.29 L96.85,344.76 L97.32,344.22 L97.79,343.66 L98.25,343.07 L98.72,342.47 L99.19,341.85 L99.66,341.20 L100.12,340.53 L100.59,339.84 L101.06,339.12 L101.53,338.38 L101.99,337.61 L102.46,336.81 L102.93,335.99 L103.40,335.13 L103.86,334.25 L104.33,333.33 L104.80,332.39 L105.27,331.41 L105.73,330.40 L106.20,329.35 L106.67,328.27 L107.14,327.15 L107.60,326.00 L108.07,324.81 L108.54,323.58 L109.01,322.32 L109.47,321.01 L109.94,319.67 L110.41,318.29 L110.88,316.87 L111.34,315.41 L111.81,313.91 L112.28,312.36 L112.75,310.78 L113.21,309.16 L113.68,307.50 L114.15,305.79 L114.62,304.05 L115.08,302.28 L115.55,300.46 L116.02,298.61 L116.49,296.72 L116.95,294.81 L117.42,292.87 L117.89,290.90 L118.36,288.92 L118.82,286.92 L119.29,284.91 L119.76,282.90 L120.23,280.89 L120.69,278.90 L121.16,276.94 L121.63,275.01 L122.10,273.12 L122.57,271.28 L123.03,269.52 L123.50,267.83 L123.97,266.23 L124.44,264.73 L124.90,263.35 L125.37,262.09 L125.84,260.95 L126.31,259.96 L126.77,259.11 L127.24,258.40 L127.71,257.85 L128.18,257.44 L128.64,257.18 L129.11,257.06 L129.58,257.06 L130.05,257.17 L130.51,257.35 L130.98,257.65 L131.45,258.07 L131.92,258.64 L132.38,259.36 L132.85,260.23 L133.32,261.25 L133.79,262.42 L134.25,263.74 L134.72,265.19 L135.19,266.78 L135.66,268.49 L136.12,270.31 L136.59,272.23 L137.06,274.24 L137.53,276.33 L137.99,278.48 L138.46,280.68 L138.93,282.93 L139.40,285.20 L139.86,287.49 L140.33,289.78 L140.80,292.07 L141.27,294.36 L141.73,296.62 L142.20,298.85 L142.67,301.06 L143.14,303.23 L143.60,305.35 L144.07,307.43 L144.54,309.46 L145.01,311.44 L145.47,313.36 L145.94,315.23 L146.41,317.04 L146.88,318.80 L147.34,320.50 L147.81,322.15 L148.28,323.73 L148.75,325.27 L149.21,326.74 L149.68,328.17 L150.15,329.54 L150.62,330.86 L151.08,332.14 L151.55,333.36 L152.02,334.54 L152.49,335.67 L152.95,336.76 L153.42,337.81 L153.89,338.81 L154.36,339.78 L154.83,340.71 L155.29,341.60 L155.76,342.46 L156.23,343.29 L156.70,344.08 L157.16,344.85 L157.63,345.58 L158.10,346.29 L158.57,346.97 L159.03,347.62 L159.50,348.25 L159.97,348.86 L160.44,349.44 L160.90,350.01 L161.37,350.55 L161.84,351.08 L162.31,351.58 L162.77,352.07 L163.24,352.54 L163.71,353.00 L164.18,353.44 L164.64,353.86 L165.11,354.28 L165.58,354.68 L166.05,355.06 L166.51,355.44 L166.98,355.80 L167.45,356.15 L167.92,356.50 L168.38,356.83 L168.85,357.15 L169.32,357.47 L169.79,357.77 L170.25,358.07 L170.72,358.36 L171.19,358.65 L171.66,358.92 L172.12,359.19 L172.59,359.45 L173.06,359.71 L173.53,359.96 L173.99,360.20 L174.46,360.44 L174.93,360.67 L175.40,360.90 L175.86,361.13 L176.33,361.35 L176.80,361.56 L177.27,361.77 L177.73,361.98 L178.20,362.18 L178.67,362.38 L179.14,362.58 L179.60,362.78 L180.07,362.97 L180.54,363.16 L181.01,363.35 L181.47,363.53 L181.94,363.72 L182.41,363.90 L182.88,364.08 L183.34,364.26 L183.81,364.43 L184.28,364.61 L184.75,364.78 L185.21,364.95 L185.68,365.12 L186.15,365.29 L186.62,365.46 L187.08,365.63 L187.55,365.79 L188.02,365.96 L188.49,366.12 L188.96,366.29 L189.42,366.45 L189.89,366.61 L190.36,366.77 L190.83,366.93 L191.29,367.08 L191.76,367.24 L192.23,367.40 L192.70,367.55 L193.16,367.71 L193.63,367.86 L194.10,368.01 L194.57,368.17 L195.03,368.32 L195.50,368.47 L195.97,368.61 L196.44,368.76 L196.90,368.91 L197.37,369.06 L197.84,369.20 L198.31,369.35 L198.77,369.49 L199.24,369.63 L199.71,369.77 L200.18,369.91 L200.64,370.05 L201.11,370.19 L201.58,370.33 L202.05,370.47 L202.51,370.60 L202.98,370.73 L203.45,370.87 L203.92,371.00 L204.38,371.13 L204.85,371.26 L205.32,371.39 L205.79,371.52 L206.25,371.64 L206.72,371.77 L207.19,371.89 L207.66,372.02 L208.12,372.14 L208.59,372.26 L209.06,372.38 L209.53,372.50 L209.99,372.62 L210.46,372.73 L210.93,372.85 L211.40,372.96 L211.86,373.07 L212.33,373.18 L212.80,373.30 L213.27,373.40 L213.73,373.51 L214.20,373.62 L214.67,373.73 L215.14,373.83 L215.60,373.93 L216.07,374.04 L216.54,374.14 L217.01,374.24 L217.47,374.34 L217.94,374.43 L218.41,374.53 L218.88,374.63 L219.34,374.72 L219.81,374.81 L220.28,374.91 L220.75,375.00 L221.22,375.09 L221.68,375.18 L222.15,375.26 L222.62,375.35 L223.09,375.44 L223.55,375.52 L224.02,375.60 L224.49,375.69 L224.96,375.77 L225.42,375.85 L225.89,375.93 L226.36,376.01 L226.83,376.09 L227.29,376.16 L227.76,376.24 L228.23,376.31 L228.70,376.39 L229.16,376.46 L229.63,376.53 L230.10,376.60 L230.57,376.67 L231.03,376.74 L231.50,376.81 L231.97,376.88 L232.44,376.95 L232.90,377.01 L233.37,377.08 L233.84,377.14 L234.31,377.20 L234.77,377.27 L235.24,377.33 L235.71,377.39 L236.18,377.45 L236.64,377.51 L237.11,377.57 L237.58,377.63 L238.05,377.68 L238.51,377.74 L238.98,377.80 L239.45,377.85 L239.92,377.91 L240.38,377.96 L240.85,378.01 L241.32,378.06 L241.79,378.12 L242.25,378.17 L242.72,378.22 L243.19,378.27 L243.66,378.32 L244.12,378.37 L244.59,378.41 L245.06,378.46 L245.53,378.51 L245.99,378.55 L246.46,378.60 L246.93,378.64 L247.40,378.69 L247.86,378.73 L248.33,378.78 L248.80,378.82 L249.27,378.86 L249.73,378.90 L250.20,378.94 L250.67,378.98 L251.14,379.02 L251.60,379.06 L252.07,379.10 L252.54,379.14 L253.01,379.18 L253.47,379.22 L253.94,379.26 L254.41,379.29 L254.88,379.33 L255.35,379.36 L255.81,379.40 L256.28,379.43 L256.75,379.47 L257.22,379.50 L257.68,379.54 L258.15,379.57 L258.62,379.60 L259.09,379.64 L259.55,379.67 L260.02,379.70 L260.49,379.73 L260.96,379.76 L261.42,379.79 L261.89,379.82 L262.36,379.85 L262.83,379.88 L263.29,379.91 L263.76,379.94 L264.23,379.97 L264.70,380.00 L265.16,380.03 L265.63,380.06 L266.10,380.08 L266.57,380.11 L267.03,380.14 L267.50,380.16 L267.97,380.19 L268.44,380.21 L268.90,380.24 L269.37,380.27 L269.84,380.29 L270.31,380.31 L270.77,380.34 L271.24,380.36 L271.71,380.39 L272.18,380.41 L272.64,380.43 L273.11,380.46 L273.58,380.48 L274.05,380.50 L274.51,380.52 L274.98,380.55 L275.45,380.57 L275.92,380.59 L276.38,380.61 L276.85,380.63 L277.32,380.65 L277.79,380.67 L278.25,380.69 L278.72,380.71 L279.19,380.73 L279.66,380.75 L280.12,380.77 L280.59,380.79 L281.06,380.81 L281.53,380.83 L281.99,380.85 L282.46,380.87 L282.93,380.89 L283.40,380.90 L283.86,380.92 L284.33,380.94 L284.80,380.96 L285.27,380.98 L285.73,380.99 L286.20,381.01 L286.67,381.03 L287.14,381.04 L287.61,381.06 L288.07,381.08 L288.54,381.09 L289.01,381.11 L289.48,381.12 L289.94,381.14 L290.41,381.15 L290.88,381.17 L291.35,381.19 L291.81,381.20 L292.28,381.22 L292.75,381.23 L293.22,381.24 L293.68,381.26 L294.15,381.27 L294.62,381.29 L295.09,381.30 L295.55,381.32 L296.02,381.33 L296.49,381.34 L296.96,381.36 L297.42,381.37 L297.89,381.38 L298.36,381.40 L298.83,381.41 L299.29,381.42 L299.76,381.43 L300.23,381.45 L300.70,381.46 L301.16,381.47 L301.63,381.48 L302.10,381.50 L302.57,381.51 L303.03,381.52 L303.50,381.53 L303.97,381.54 L304.44,381.56 L304.90,381.57 L305.37,381.58 L305.84,381.59 L306.31,381.60 L306.77,381.61 L307.24,381.62 L307.71,381.63 L308.18,381.64 L308.64,381.65 L309.11,381.67 L309.58,381.68 L310.05,381.69 L310.51,381.70 L310.98,381.71 L311.45,381.72 L311.92,381.73 L312.38,381.74 L312.85,381.75 L313.32,381.76 L313.79,381.77 L314.25,381.78 L314.72,381.78 L315.19,381.79 L315.66,381.80 L316.12,381.81 L316.59,381.82 L317.06,381.83 L317.53,381.84 L317.99,381.85 L318.46,381.86 L318.93,381.87 L319.40,381.87 L319.86,381.88 L320.33,381.89 L320.80,381.90" stroke="#8066d2" stroke-dasharray="4,2.6"/>
<path d="M87.50,363.83 L87.97,363.59 L88.44,363.34 L88.90,363.09 L89.37,362.84 L89.84,362.58 L90.31,362.32 L90.77,362.05 L91.24,361.77 L91.71,361.49 L92.18,361.20 L92.64,360.91 L93.11,360.61 L93.58,360.30 L94.05,359.98 L94.51,359.65 L94.98,359.32 L95.45,358.97 L95.92,358.62 L96.38,358.25 L96.85,357.88 L97.32,357.49 L97.79,357.09 L98.25,356.67 L98.72,356.25 L99.19,355.80 L99.66,355.35 L100.12,354.87 L100.59,354.38 L101.06,353.87 L101.53,353.33 L101.99,352.78 L102.46,352.21 L102.93,351.61 L103.40,350.98 L103.86,350.33 L104.33,349.65 L104.80,348.94 L105.27,348.19 L105.73,347.41 L106.20,346.59 L106.67,345.73 L107.14,344.83 L107.60,343.88 L108.07,342.88 L108.54,341.83 L109.01,340.73 L109.47,339.56 L109.94,338.34 L110.41,337.05 L110.88,335.71 L111.34,334.30 L111.81,332.84 L112.28,331.33 L112.75,329.78 L113.21,328.23 L113.68,326.69 L114.15,325.23 L114.62,324.00 L115.08,322.99 L115.55,322.04 L116.02,321.12 L116.49,320.18 L116.95,319.20 L117.42,318.16 L117.89,317.06 L118.36,315.89 L118.82,314.66 L119.29,313.35 L119.76,311.98 L120.23,310.55 L120.69,309.06 L121.16,307.53 L121.63,305.95 L122.10,304.35 L122.57,302.72 L123.03,301.08 L123.50,299.44 L123.97,297.81 L124.44,296.21 L124.90,294.64 L125.37,293.12 L125.84,291.66 L126.31,290.28 L126.77,288.98 L127.24,287.78 L127.71,286.68 L128.18,285.71 L128.64,284.85 L129.11,284.13 L129.58,283.55 L130.05,283.09 L130.51,282.77 L130.98,282.58 L131.45,282.51 L131.92,282.54 L132.38,282.64 L132.85,282.86 L133.32,283.20 L133.79,283.67 L134.25,284.28 L134.72,285.02 L135.19,285.90 L135.66,286.91 L136.12,288.05 L136.59,289.31 L137.06,290.68 L137.53,292.14 L137.99,293.70 L138.46,295.33 L138.93,297.03 L139.40,298.78 L139.86,300.58 L140.33,302.41 L140.80,304.25 L141.27,306.11 L141.73,307.97 L142.20,309.82 L142.67,311.66 L143.14,313.48 L143.60,315.27 L144.07,317.03 L144.54,318.75 L145.01,320.44 L145.47,322.08 L145.94,323.68 L146.41,325.23 L146.88,326.74 L147.34,328.20 L147.81,329.61 L148.28,330.97 L148.75,332.29 L149.21,333.56 L149.68,334.78 L150.15,335.96 L150.62,337.10 L151.08,338.19 L151.55,339.24 L152.02,340.25 L152.49,341.22 L152.95,342.16 L153.42,343.06 L153.89,343.92 L154.36,344.75 L154.83,345.55 L155.29,346.31 L155.76,347.05 L156.23,347.76 L156.70,348.44 L157.16,349.10 L157.63,349.73 L158.10,350.34 L158.57,350.92 L159.03,351.48 L159.50,352.03 L159.97,352.55 L160.44,353.06 L160.90,353.54 L161.37,354.01 L161.84,354.47 L162.31,354.90 L162.77,355.33 L163.24,355.74 L163.71,356.14 L164.18,356.52 L164.64,356.89 L165.11,357.25 L165.58,357.60 L166.05,357.94 L166.51,358.27 L166.98,358.59 L167.45,358.90 L167.92,359.20 L168.38,359.49 L168.85,359.78 L169.32,360.06 L169.79,360.33 L170.25,360.60 L170.72,360.85 L171.19,361.11 L171.66,361.35 L172.12,361.60 L172.59,361.83 L173.06,362.06 L173.53,362.29 L173.99,362.51 L174.46,362.73 L174.93,362.95 L175.40,363.16 L175.86,363.36 L176.33,363.57 L176.80,363.77 L177.27,363.97 L177.73,364.16 L178.20,364.35 L178.67,364.54 L179.14,364.73 L179.60,364.91 L180.07,365.09 L180.54,365.27 L181.01,365.45 L181.47,365.63 L181.94,365.80 L182.41,365.97 L182.88,366.14 L183.34,366.31 L183.81,366.48 L184.28,366.65 L184.75,366.81 L185.21,366.97 L185.68,367.14 L186.15,367.30 L186.62,367.46 L187.08,367.61 L187.55,367.77 L188.02,367.93 L188.49,368.08 L188.96,368.24 L189.42,368.39 L189.89,368.54 L190.36,368.69 L190.83,368.84 L191.29,368.99 L191.76,369.14 L192.23,369.29 L192.70,369.43 L193.16,369.58 L193.63,369.73 L194.10,369.87 L194.57,370.01 L195.03,370.16 L195.50,370.30 L195.97,370.44 L196.44,370.58 L196.90,370.72 L197.37,370.86 L197.84,370.99 L198.31,371.13 L198.77,371.26 L199.24,371.40 L199.71,371.53 L200.18,371.67 L200.64,371.80 L201.11,371.93 L201.58,372.06 L202.05,372.19 L202.51,372.32 L202.98,372.44 L203.45,372.57 L203.92,372.70 L204.38,372.82 L204.85,372.94 L205.32,373.07 L205.79,373.19 L206.25,373.31 L206.72,373.43 L207.19,373.55 L207.66,373.66 L208.12,373.78 L208.59,373.90 L209.06,374.01 L209.53,374.12 L209.99,374.23 L210.46,374.35 L210.93,374.46 L211.40,374.56 L211.86,374.67 L212.33,374.78 L212.80,374.88 L213.27,374.99 L213.73,375.09 L214.20,375.20 L214.67,375.30 L215.14,375.40 L215.60,375.50 L216.07,375.59 L216.54,375.69 L217.01,375.79 L217.47,375.88 L217.94,375.97 L218.41,376.07 L218.88,376.16 L219.34,376.25 L219.81,376.34 L220.28,376.43 L220.75,376.51 L221.22,376.60 L221.68,376.69 L222.15,376.77 L222.62,376.85 L223.09,376.93 L223.55,377.02 L224.02,377.10 L224.49,377.17 L224.96,377.25 L225.42,377.33 L225.89,377.41 L226.36,377.48 L226.83,377.55 L227.29,377.63 L227.76,377.70 L228.23,377.77 L228.70,377.84 L229.16,377.91 L229.63,377.98 L230.10,378.04 L230.57,378.11 L231.03,378.18 L231.50,378.24 L231.97,378.31 L232.44,378.37 L232.90,378.43 L233.37,378.49 L233.84,378.55 L234.31,378.61 L234.77,378.67 L235.24,378.73 L235.71,378.78 L236.18,378.84 L236.64,378.90 L237.11,378.95 L237.58,379.01 L238.05,379.06 L238.51,379.11 L238.98,379.16 L239.45,379.21 L239.92,379.26 L240.38,379.31 L240.85,379.36 L241.32,379.41 L241.79,379.46 L242.25,379.50 L242.72,379.55 L243.19,379.60 L243.66,379.64 L244.12,379.69 L244.59,379.73 L245.06,379.77 L245.53,379.81 L245.99,379.86 L246.46,379.90 L246.93,379.94 L247.40,379.98 L247.86,380.02 L248.33,380.06 L248.80,380.09 L249.27,380.13 L249.73,380.17 L250.20,380.21 L250.67,380.24 L251.14,380.28 L251.60,380.31 L252.07,380.35 L252.54,380.38 L253.01,380.41 L253.47,380.45 L253.94,380.48 L254.41,380.51 L254.88,380.55 L255.35,380.58 L255.81,380.61 L256.28,380.64 L256.75,380.67 L257.22,380.70 L257.68,380.73 L258.15,380.76 L258.62,380.78 L259.09,380.81 L259.55,380.84 L260.02,380.87 L260.49,380.89 L260.96,380.92 L261.42,380.95 L261.89,380.97 L262.36,381.00 L262.83,381.02 L263.29,381.05 L263.76,381.07 L264.23,381.10 L264.70,381.12 L265.16,381.14 L265.63,381.17 L266.10,381.19 L266.57,381.21 L267.03,381.23 L267.50,381.26 L267.97,381.28 L268.44,381.30 L268.90,381.32 L269.37,381.34 L269.84,381.36 L270.31,381.38 L270.77,381.40 L271.24,381.42 L271.71,381.44 L272.18,381.46 L272.64,381.48 L273.11,381.50 L273.58,381.51 L274.05,381.53 L274.51,381.55 L274.98,381.57 L275.45,381.59 L275.92,381.60 L276.38,381.62 L276.85,381.64 L277.32,381.65 L277.79,381.67 L278.25,381.68 L278.72,381.70 L279.19,381.72 L279.66,381.73 L280.12,381.75 L280.59,381.76 L281.06,381.78 L281.53,381.79 L281.99,381.81 L282.46,381.82 L282.93,381.83 L283.40,381.85 L283.86,381.86 L284.33,381.88 L284.80,381.89 L285.27,381.90 L285.73,381.92 L286.20,381.93 L286.67,381.94 L287.14,381.95 L287.61,381.97 L288.07,381.98 L288.54,381.99 L289.01,382.00 L289.48,382.02 L289.94,382.03 L290.41,382.04 L290.88,382.05 L291.35,382.06 L291.81,382.07 L292.28,382.08 L292.75,382.09 L293.22,382.11 L293.68,382.12 L294.15,382.13 L294.62,382.14 L295.09,382.15 L295.55,382.16 L296.02,382.17 L296.49,382.18 L296.96,382.19 L297.42,382.20 L297.89,382.21 L298.36,382.22 L298.83,382.23 L299.29,382.23 L299.76,382.24 L300.23,382.25 L300.70,382.26 L301.16,382.27 L301.63,382.28 L302.10,382.29 L302.57,382.30 L303.03,382.30 L303.50,382.31 L303.97,382.32 L304.44,382.33 L304.90,382.34 L305.37,382.35 L305.84,382.35 L306.31,382.36 L306.77,382.37 L307.24,382.38 L307.71,382.38 L308.18,382.39 L308.64,382.40 L309.11,382.41 L309.58,382.41 L310.05,382.42 L310.51,382.43 L310.98,382.43 L311.45,382.44 L311.92,382.45 L312.38,382.45 L312.85,382.46 L313.32,382.47 L313.79,382.47 L314.25,382.48 L314.72,382.49 L315.19,382.49 L315.66,382.50 L316.12,382.51 L316.59,382.51 L317.06,382.52 L317.53,382.52 L317.99,382.53 L318.46,382.54 L318.93,382.54 L319.40,382.55 L319.86,382.55 L320.33,382.56 L320.80,382.56" stroke="#8066d2"/>
<path d="M87.50,360.59 L87.97,360.21 L88.44,359.82 L88.90,359.42 L89.37,359.01 L89.84,358.58 L90.31,358.15 L90.77,357.71 L91.24,357.25 L91.71,356.78 L92.18,356.30 L92.64,355.80 L93.11,355.29 L93.58,354.76 L94.05,354.23 L94.51,353.67 L94.98,353.10 L95.45,352.51 L95.92,351.91 L96.38,351.29 L96.85,350.65 L97.32,349.99 L97.79,349.31 L98.25,348.61 L98.72,347.90 L99.19,347.16 L99.66,346.40 L100.12,345.62 L100.59,344.81 L101.06,343.98 L101.53,343.13 L101.99,342.26 L102.46,341.36 L102.93,340.44 L103.40,339.49 L103.86,338.51 L104.33,337.51 L104.80,336.48 L105.27,335.43 L105.73,334.36 L106.20,333.26 L106.67,332.13 L107.14,330.98 L107.60,329.82 L108.07,328.63 L108.54,327.43 L109.01,326.22 L109.47,325.02 L109.94,323.88 L110.41,322.75 L110.88,321.62 L111.34,320.49 L111.81,319.35 L112.28,318.21 L112.75,317.06 L113.21,315.91 L113.68,314.76 L114.15,313.62 L114.62,312.49 L115.08,311.38 L115.55,310.30 L116.02,309.25 L116.49,308.24 L116.95,307.28 L117.42,306.38 L117.89,305.54 L118.36,304.78 L118.82,304.09 L119.29,303.50 L119.76,303.00 L120.23,302.59 L120.69,302.29 L121.16,302.10 L121.63,302.01 L122.10,302.02 L122.57,302.13 L123.03,302.33 L123.50,302.60 L123.97,302.97 L124.44,303.44 L124.90,304.01 L125.37,304.69 L125.84,305.46 L126.31,306.34 L126.77,307.32 L127.24,308.38 L127.71,309.52 L128.18,310.73 L128.64,312.01 L129.11,313.35 L129.58,314.73 L130.05,316.16 L130.51,317.61 L130.98,319.08 L131.45,320.57 L131.92,322.07 L132.38,323.57 L132.85,325.06 L133.32,326.54 L133.79,328.01 L134.25,329.45 L134.72,330.87 L135.19,332.27 L135.66,333.63 L136.12,334.96 L136.59,336.26 L137.06,337.53 L137.53,338.76 L137.99,339.95 L138.46,341.11 L138.93,342.23 L139.40,343.32 L139.86,344.37 L140.33,345.39 L140.80,346.37 L141.27,347.32 L141.73,348.23 L142.20,349.11 L142.67,349.97 L143.14,350.79 L143.60,351.58 L144.07,352.34 L144.54,353.08 L145.01,353.79 L145.47,354.48 L145.94,355.14 L146.41,355.78 L146.88,356.39 L147.34,356.99 L147.81,357.56 L148.28,358.11 L148.75,358.65 L149.21,359.16 L149.68,359.66 L150.15,360.14 L150.62,360.60 L151.08,361.05 L151.55,361.48 L152.02,361.90 L152.49,362.31 L152.95,362.70 L153.42,363.08 L153.89,363.45 L154.36,363.80 L154.83,364.15 L155.29,364.48 L155.76,364.80 L156.23,365.11 L156.70,365.42 L157.16,365.71 L157.63,366.00 L158.10,366.28 L158.57,366.54 L159.03,366.81 L159.50,367.06 L159.97,367.31 L160.44,367.54 L160.90,367.78 L161.37,368.00 L161.84,368.22 L162.31,368.44 L162.77,368.65 L163.24,368.85 L163.71,369.04 L164.18,369.24 L164.64,369.42 L165.11,369.61 L165.58,369.78 L166.05,369.96 L166.51,370.13 L166.98,370.29 L167.45,370.45 L167.92,370.61 L168.38,370.76 L168.85,370.91 L169.32,371.05 L169.79,371.20 L170.25,371.33 L170.72,371.47 L171.19,371.60 L171.66,371.73 L172.12,371.86 L172.59,371.98 L173.06,372.10 L173.53,372.22 L173.99,372.34 L174.46,372.45 L174.93,372.56 L175.40,372.67 L175.86,372.78 L176.33,372.88 L176.80,372.98 L177.27,373.08 L177.73,373.18 L178.20,373.28 L178.67,373.37 L179.14,373.46 L179.60,373.55 L180.07,373.64 L180.54,373.73 L181.01,373.82 L181.47,373.90 L181.94,373.98 L182.41,374.06 L182.88,374.14 L183.34,374.22 L183.81,374.30 L184.28,374.37 L184.75,374.45 L185.21,374.52 L185.68,374.59 L186.15,374.66 L186.62,374.73 L187.08,374.80 L187.55,374.86 L188.02,374.93 L188.49,374.99 L188.96,375.06 L189.42,375.12 L189.89,375.18 L190.36,375.24 L190.83,375.30 L191.29,375.36 L191.76,375.42 L192.23,375.48 L192.70,375.54 L193.16,375.59 L193.63,375.65 L194.10,375.70 L194.57,375.75 L195.03,375.81 L195.50,375.86 L195.97,375.91 L196.44,375.96 L196.90,376.01 L197.37,376.06 L197.84,376.11 L198.31,376.16 L198.77,376.21 L199.24,376.25 L199.71,376.30 L200.18,376.35 L200.64,376.39 L201.11,376.44 L201.58,376.48 L202.05,376.53 L202.51,376.57 L202.98,376.61 L203.45,376.66 L203.92,376.70 L204.38,376.74 L204.85,376.78 L205.32,376.83 L205.79,376.87 L206.25,376.91 L206.72,376.95 L207.19,376.99 L207.66,377.03 L208.12,377.07 L208.59,377.10 L209.06,377.14 L209.53,377.18 L209.99,377.22 L210.46,377.26 L210.93,377.29 L211.40,377.33 L211.86,377.37 L212.33,377.40 L212.80,377.44 L213.27,377.48 L213.73,377.51 L214.20,377.55 L214.67,377.58 L215.14,377.62 L215.60,377.65 L216.07,377.69 L216.54,377.72 L217.01,377.76 L217.47,377.79 L217.94,377.83 L218.41,377.86 L218.88,377.89 L219.34,377.93 L219.81,377.96 L220.28,377.99 L220.75,378.03 L221.22,378.06 L221.68,378.09 L222.15,378.12 L222.62,378.16 L223.09,378.19 L223.55,378.22 L224.02,378.25 L224.49,378.28 L224.96,378.31 L225.42,378.35 L225.89,378.38 L226.36,378.41 L226.83,378.44 L227.29,378.47 L227.76,378.50 L228.23,378.53 L228.70,378.56 L229.16,378.59 L229.63,378.62 L230.10,378.65 L230.57,378.68 L231.03,378.71 L231.50,378.74 L231.97,378.77 L232.44,378.80 L232.90,378.83 L233.37,378.86 L233.84,378.89 L234.31,378.92 L234.77,378.94 L235.24,378.97 L235.71,379.00 L236.18,379.03 L236.64,379.06 L237.11,379.08 L237.58,379.11 L238.05,379.14 L238.51,379.17 L238.98,379.20 L239.45,379.22 L239.92,379.25 L240.38,379.28 L240.85,379.30 L241.32,379.33 L241.79,379.36 L242.25,379.38 L242.72,379.41 L243.19,379.44 L243.66,379.46 L244.12,379.49 L244.59,379.51 L245.06,379.54 L245.53,379.57 L245.99,379.59 L246.46,379.62 L246.93,379.64 L247.40,379.67 L247.86,379.69 L248.33,379.72 L248.80,379.74 L249.27,379.76 L249.73,379.79 L250.20,379.81 L250.67,379.84 L251.14,379.86 L251.60,379.88 L252.07,379.91 L252.54,379.93 L253.01,379.95 L253.47,379.98 L253.94,380.00 L254.41,380.02 L254.88,380.04 L255.35,380.07 L255.81,380.09 L256.28,380.11 L256.75,380.13 L257.22,380.15 L257.68,380.18 L258.15,380.20 L258.62,380.22 L259.09,380.24 L259.55,380.26 L260.02,380.28 L260.49,380.30 L260.96,380.32 L261.42,380.34 L261.89,380.36 L262.36,380.38 L262.83,380.40 L263.29,380.42 L263.76,380.44 L264.23,380.46 L264.70,380.48 L265.16,380.50 L265.63,380.52 L266.10,380.54 L266.57,380.56 L267.03,380.58 L267.50,380.59 L267.97,380.61 L268.44,380.63 L268.90,380.65 L269.37,380.67 L269.84,380.68 L270.31,380.70 L270.77,380.72 L271.24,380.74 L271.71,380.75 L272.18,380.77 L272.64,380.79 L273.11,380.80 L273.58,380.82 L274.05,380.84 L274.51,380.85 L274.98,380.87 L275.45,380.88 L275.92,380.90 L276.38,380.92 L276.85,380.93 L277.32,380.95 L277.79,380.96 L278.25,380.98 L278.72,380.99 L279.19,381.01 L279.66,381.02 L280.12,381.04 L280.59,381.05 L281.06,381.07 L281.53,381.08 L281.99,381.09 L282.46,381.11 L282.93,381.12 L283.40,381.14 L283.86,381.15 L284.33,381.16 L284.80,381.18 L285.27,381.19 L285.73,381.20 L286.20,381.21 L286.67,381.23 L287.14,381.24 L287.61,381.25 L288.07,381.27 L288.54,381.28 L289.01,381.29 L289.48,381.30 L289.94,381.31 L290.41,381.33 L290.88,381.34 L291.35,381.35 L291.81,381.36 L292.28,381.37 L292.75,381.38 L293.22,381.40 L293.68,381.41 L294.15,381.42 L294.62,381.43 L295.09,381.44 L295.55,381.45 L296.02,381.46 L296.49,381.47 L296.96,381.48 L297.42,381.49 L297.89,381.50 L298.36,381.51 L298.83,381.52 L299.29,381.53 L299.76,381.54 L300.23,381.55 L300.70,381.56 L301.16,381.57 L301.63,381.58 L302.10,381.59 L302.57,381.60 L303.03,381.61 L303.50,381.62 L303.97,381.63 L304.44,381.64 L304.90,381.65 L305.37,381.66 L305.84,381.67 L306.31,381.68 L306.77,381.68 L307.24,381.69 L307.71,381.70 L308.18,381.71 L308.64,381.72 L309.11,381.73 L309.58,381.74 L310.05,381.74 L310.51,381.75 L310.98,381.76 L311.45,381.77 L311.92,381.78 L312.38,381.78 L312.85,381.79 L313.32,381.80 L313.79,381.81 L314.25,381.81 L314.72,381.82 L315.19,381.83 L315.66,381.84 L316.12,381.84 L316.59,381.85 L317.06,381.86 L317.53,381.87 L317.99,381.87 L318.46,381.88 L318.93,381.89 L319.40,381.89 L319.86,381.90 L320.33,381.91 L320.80,381.91" stroke="#e86062" stroke-dasharray="4,2.6"/>
<path d="M87.50,372.66 L87.97,372.44 L88.44,372.22 L88.90,371.98 L89.37,371.74 L89.84,371.49 L90.31,371.23 L90.77,370.96 L91.24,370.68 L91.71,370.39 L92.18,370.10 L92.64,369.79 L93.11,369.47 L93.58,369.14 L94.05,368.80 L94.51,368.44 L94.98,368.07 L95.45,367.69 L95.92,367.30 L96.38,366.88 L96.85,366.46 L97.32,366.01 L97.79,365.55 L98.25,365.07 L98.72,364.58 L99.19,364.06 L99.66,363.52 L100.12,362.96 L100.59,362.38 L101.06,361.77 L101.53,361.14 L101.99,360.48 L102.46,359.80 L102.93,359.09 L103.40,358.35 L103.86,357.59 L104.33,356.79 L104.80,355.96 L105.27,355.10 L105.73,354.21 L106.20,353.28 L106.67,352.32 L107.14,351.33 L107.60,350.31 L108.07,349.25 L108.54,348.16 L109.01,347.03 L109.47,345.88 L109.94,344.70 L110.41,343.49 L110.88,342.25 L111.34,341.00 L111.81,339.73 L112.28,338.45 L112.75,337.16 L113.21,335.87 L113.68,334.59 L114.15,333.32 L114.62,332.07 L115.08,330.85 L115.55,329.66 L116.02,328.52 L116.49,327.44 L116.95,326.41 L117.42,325.45 L117.89,324.57 L118.36,323.76 L118.82,323.05 L119.29,322.42 L119.76,321.88 L120.23,321.43 L120.69,321.08 L121.16,320.80 L121.63,320.60 L122.10,320.46 L122.57,320.37 L123.03,320.36 L123.50,320.42 L123.97,320.58 L124.44,320.83 L124.90,321.16 L125.37,321.59 L125.84,322.11 L126.31,322.71 L126.77,323.39 L127.24,324.14 L127.71,324.96 L128.18,325.83 L128.64,326.76 L129.11,327.72 L129.58,328.73 L130.05,329.75 L130.51,330.80 L130.98,331.87 L131.45,332.94 L131.92,334.02 L132.38,335.09 L132.85,336.17 L133.32,337.24 L133.79,338.30 L134.25,339.38 L134.72,340.49 L135.19,341.59 L135.66,342.68 L136.12,343.75 L136.59,344.80 L137.06,345.82 L137.53,346.82 L137.99,347.79 L138.46,348.73 L138.93,349.65 L139.40,350.54 L139.86,351.40 L140.33,352.23 L140.80,353.04 L141.27,353.82 L141.73,354.57 L142.20,355.30 L142.67,356.00 L143.14,356.68 L143.60,357.34 L144.07,357.97 L144.54,358.59 L145.01,359.18 L145.47,359.75 L145.94,360.30 L146.41,360.83 L146.88,361.34 L147.34,361.84 L147.81,362.32 L148.28,362.78 L148.75,363.22 L149.21,363.66 L149.68,364.07 L150.15,364.48 L150.62,364.86 L151.08,365.24 L151.55,365.61 L152.02,365.96 L152.49,366.30 L152.95,366.63 L153.42,366.95 L153.89,367.26 L154.36,367.56 L154.83,367.85 L155.29,368.13 L155.76,368.40 L156.23,368.66 L156.70,368.92 L157.16,369.17 L157.63,369.41 L158.10,369.64 L158.57,369.87 L159.03,370.08 L159.50,370.30 L159.97,370.51 L160.44,370.71 L160.90,370.90 L161.37,371.09 L161.84,371.28 L162.31,371.46 L162.77,371.63 L163.24,371.80 L163.71,371.96 L164.18,372.12 L164.64,372.28 L165.11,372.43 L165.58,372.58 L166.05,372.72 L166.51,372.87 L166.98,373.00 L167.45,373.14 L167.92,373.26 L168.38,373.39 L168.85,373.51 L169.32,373.64 L169.79,373.75 L170.25,373.87 L170.72,373.98 L171.19,374.09 L171.66,374.19 L172.12,374.30 L172.59,374.40 L173.06,374.50 L173.53,374.59 L173.99,374.69 L174.46,374.78 L174.93,374.87 L175.40,374.96 L175.86,375.05 L176.33,375.13 L176.80,375.21 L177.27,375.29 L177.73,375.37 L178.20,375.45 L178.67,375.52 L179.14,375.60 L179.60,375.67 L180.07,375.74 L180.54,375.81 L181.01,375.88 L181.47,375.95 L181.94,376.01 L182.41,376.07 L182.88,376.14 L183.34,376.20 L183.81,376.26 L184.28,376.32 L184.75,376.38 L185.21,376.43 L185.68,376.49 L186.15,376.54 L186.62,376.60 L187.08,376.65 L187.55,376.70 L188.02,376.75 L188.49,376.80 L188.96,376.85 L189.42,376.90 L189.89,376.94 L190.36,376.99 L190.83,377.04 L191.29,377.08 L191.76,377.13 L192.23,377.17 L192.70,377.21 L193.16,377.25 L193.63,377.30 L194.10,377.34 L194.57,377.38 L195.03,377.42 L195.50,377.45 L195.97,377.49 L196.44,377.53 L196.90,377.57 L197.37,377.60 L197.84,377.64 L198.31,377.68 L198.77,377.71 L199.24,377.75 L199.71,377.78 L200.18,377.82 L200.64,377.85 L201.11,377.88 L201.58,377.91 L202.05,377.95 L202.51,377.98 L202.98,378.01 L203.45,378.04 L203.92,378.07 L204.38,378.10 L204.85,378.14 L205.32,378.17 L205.79,378.20 L206.25,378.23 L206.72,378.26 L207.19,378.28 L207.66,378.31 L208.12,378.34 L208.59,378.37 L209.06,378.40 L209.53,378.43 L209.99,378.46 L210.46,378.48 L210.93,378.51 L211.40,378.54 L211.86,378.57 L212.33,378.59 L212.80,378.62 L213.27,378.65 L213.73,378.68 L214.20,378.70 L214.67,378.73 L215.14,378.76 L215.60,378.78 L216.07,378.81 L216.54,378.84 L217.01,378.87 L217.47,378.89 L217.94,378.92 L218.41,378.95 L218.88,378.97 L219.34,379.00 L219.81,379.02 L220.28,379.05 L220.75,379.08 L221.22,379.10 L221.68,379.13 L222.15,379.16 L222.62,379.18 L223.09,379.21 L223.55,379.24 L224.02,379.26 L224.49,379.29 L224.96,379.32 L225.42,379.34 L225.89,379.37 L226.36,379.40 L226.83,379.42 L227.29,379.45 L227.76,379.48 L228.23,379.50 L228.70,379.53 L229.16,379.56 L229.63,379.58 L230.10,379.61 L230.57,379.64 L231.03,379.66 L231.50,379.69 L231.97,379.72 L232.44,379.74 L232.90,379.77 L233.37,379.80 L233.84,379.82 L234.31,379.85 L234.77,379.88 L235.24,379.90 L235.71,379.93 L236.18,379.96 L236.64,379.98 L237.11,380.01 L237.58,380.04 L238.05,380.06 L238.51,380.09 L238.98,380.12 L239.45,380.14 L239.92,380.17 L240.38,380.20 L240.85,380.22 L241.32,380.25 L241.79,380.27 L242.25,380.30 L242.72,380.33 L243.19,380.35 L243.66,380.38 L244.12,380.40 L244.59,380.43 L245.06,380.45 L245.53,380.48 L245.99,380.50 L246.46,380.53 L246.93,380.55 L247.40,380.58 L247.86,380.60 L248.33,380.63 L248.80,380.65 L249.27,380.68 L249.73,380.70 L250.20,380.72 L250.67,380.75 L251.14,380.77 L251.60,380.79 L252.07,380.82 L252.54,380.84 L253.01,380.86 L253.47,380.89 L253.94,380.91 L254.41,380.93 L254.88,380.95 L255.35,380.98 L255.81,381.00 L256.28,381.02 L256.75,381.04 L257.22,381.06 L257.68,381.08 L258.15,381.10 L258.62,381.12 L259.09,381.14 L259.55,381.17 L260.02,381.19 L260.49,381.21 L260.96,381.22 L261.42,381.24 L261.89,381.26 L262.36,381.28 L262.83,381.30 L263.29,381.32 L263.76,381.34 L264.23,381.36 L264.70,381.38 L265.16,381.39 L265.63,381.41 L266.10,381.43 L266.57,381.45 L267.03,381.46 L267.50,381.48 L267.97,381.50 L268.44,381.51 L268.90,381.53 L269.37,381.55 L269.84,381.56 L270.31,381.58 L270.77,381.59 L271.24,381.61 L271.71,381.63 L272.18,381.64 L272.64,381.66 L273.11,381.67 L273.58,381.69 L274.05,381.70 L274.51,381.71 L274.98,381.73 L275.45,381.74 L275.92,381.76 L276.38,381.77 L276.85,381.78 L277.32,381.80 L277.79,381.81 L278.25,381.82 L278.72,381.84 L279.19,381.85 L279.66,381.86 L280.12,381.87 L280.59,381.89 L281.06,381.90 L281.53,381.91 L281.99,381.92 L282.46,381.93 L282.93,381.94 L283.40,381.96 L283.86,381.97 L284.33,381.98 L284.80,381.99 L285.27,382.00 L285.73,382.01 L286.20,382.02 L286.67,382.03 L287.14,382.04 L287.61,382.05 L288.07,382.06 L288.54,382.07 L289.01,382.08 L289.48,382.09 L289.94,382.10 L290.41,382.11 L290.88,382.12 L291.35,382.13 L291.81,382.14 L292.28,382.15 L292.75,382.16 L293.22,382.16 L293.68,382.17 L294.15,382.18 L294.62,382.19 L295.09,382.20 L295.55,382.21 L296.02,382.21 L296.49,382.22 L296.96,382.23 L297.42,382.24 L297.89,382.25 L298.36,382.25 L298.83,382.26 L299.29,382.27 L299.76,382.28 L300.23,382.28 L300.70,382.29 L301.16,382.30 L301.63,382.30 L302.10,382.31 L302.57,382.32 L303.03,382.33 L303.50,382.33 L303.97,382.34 L304.44,382.35 L304.90,382.35 L305.37,382.36 L305.84,382.36 L306.31,382.37 L306.77,382.38 L307.24,382.38 L307.71,382.39 L308.18,382.39 L308.64,382.40 L309.11,382.41 L309.58,382.41 L310.05,382.42 L310.51,382.42 L310.98,382.43 L311.45,382.44 L311.92,382.44 L312.38,382.45 L312.85,382.45 L313.32,382.46 L313.79,382.46 L314.25,382.47 L314.72,382.47 L315.19,382.48 L315.66,382.48 L316.12,382.49 L316.59,382.49 L317.06,382.50 L317.53,382.50 L317.99,382.51 L318.46,382.51 L318.93,382.52 L319.40,382.52 L319.86,382.53 L320.33,382.53 L320.80,382.53" stroke="#e86062"/>
</g>
<g stroke="#000" stroke-opacity="0.47" stroke-width="1.4" fill="none">
<rect x="87.5" y="35.5" width="233.3" height="347.8"/>
<line x1="80.3" y1="383.30" x2="87.5" y2="383.30"/>
<line x1="84.0" y1="361.56" x2="87.5" y2="361.56"/>
<line x1="80.3" y1="339.82" x2="87.5" y2="339.82"/>
<line x1="84.0" y1="318.09" x2="87.5" y2="318.09"/>
<line x1="80.3" y1="296.35" x2="87.5" y2="296.35"/>
<line x1="84.0" y1="274.61" x2="87.5" y2="274.61"/>
<line x1="80.3" y1="252.88" x2="87.5" y2="252.88"/>
<line x1="84.0" y1="231.14" x2="87.5" y2="231.14"/>
<line x1="80.3" y1="209.40" x2="87.5" y2="209.40"/>
<line x1="84.0" y1="187.66" x2="87.5" y2="187.66"/>
<line x1="80.3" y1="165.93" x2="87.5" y2="165.93"/>
<line x1="84.0" y1="144.19" x2="87.5" y2="144.19"/>
<line x1="80.3" y1="122.45" x2="87.5" y2="122.45"/>
<line x1="84.0" y1="100.71" x2="87.5" y2="100.71"/>
<line x1="80.3" y1="78.98" x2="87.5" y2="78.98"/>
<line x1="84.0" y1="57.24" x2="87.5" y2="57.24"/>
<line x1="80.3" y1="35.50" x2="87.5" y2="35.50"/>
<line x1="87.50" y1="383.3" x2="87.50" y2="390.5"/>
<line x1="99.17" y1="383.3" x2="99.17" y2="386.8"/>
<line x1="110.83" y1="383.3" x2="110.83" y2="386.8"/>
<line x1="122.50" y1="383.3" x2="122.50" y2="386.8"/>
<line x1="134.16" y1="383.3" x2="134.16" y2="386.8"/>
<line x1="145.82" y1="383.3" x2="145.82" y2="390.5"/>
<line x1="157.49" y1="383.3" x2="157.49" y2="386.8"/>
<line x1="169.16" y1="383.3" x2="169.16" y2="386.8"/>
<line x1="180.82" y1="383.3" x2="180.82" y2="386.8"/>
<line x1="192.49" y1="383.3" x2="192.49" y2="386.8"/>
<line x1="204.15" y1="383.3" x2="204.15" y2="390.5"/>
<line x1="215.81" y1="383.3" x2="215.81" y2="386.8"/>
<line x1="227.48" y1="383.3" x2="227.48" y2="386.8"/>
<line x1="239.15" y1="383.3" x2="239.15" y2="386.8"/>
<line x1="250.81" y1="383.3" x2="250.81" y2="386.8"/>
<line x1="262.48" y1="383.3" x2="262.48" y2="390.5"/>
<line x1="274.14" y1="383.3" x2="274.14" y2="386.8"/>
<line x1="285.81" y1="383.3" x2="285.81" y2="386.8"/>
<line x1="297.47" y1="383.3" x2="297.47" y2="386.8"/>
<line x1="309.13" y1="383.3" x2="309.13" y2="386.8"/>
<line x1="320.80" y1="383.3" x2="320.80" y2="390.5"/>
</g>
<text transform="translate(69.5,390.0) scale(1.05,1.0)" text-anchor="end" font-size="17.5" font-weight="normal" >0</text>
<text transform="translate(69.5,346.52) scale(1.05,1.0)" text-anchor="end" font-size="17.5" font-weight="normal" >1000</text>
<text transform="translate(69.5,303.05) scale(1.05,1.0)" text-anchor="end" font-size="17.5" font-weight="normal" >2000</text>
<text transform="translate(69.5,259.57) scale(1.05,1.0)" text-anchor="end" font-size="17.5" font-weight="normal" >3000</text>
<text transform="translate(69.5,216.1) scale(1.05,1.0)" text-anchor="end" font-size="17.5" font-weight="normal" >4000</text>
<text transform="translate(69.5,172.62) scale(1.05,1.0)" text-anchor="end" font-size="17.5" font-weight="normal" >5000</text>
<text transform="translate(69.5,129.15) scale(1.05,1.0)" text-anchor="end" font-size="17.5" font-weight="normal" >6000</text>
<text transform="translate(69.5,85.68) scale(1.05,1.0)" text-anchor="end" font-size="17.5" font-weight="normal" >7000</text>
<text transform="translate(69.5,42.2) scale(1.05,1.0)" text-anchor="end" font-size="17.5" font-weight="normal" >8000</text>
<text transform="translate(87.2,415.1) scale(1.05,1.0)" text-anchor="middle" font-size="17.5" font-weight="normal" >600</text>
<text transform="translate(145.52,415.1) scale(1.05,1.0)" text-anchor="middle" font-size="17.5" font-weight="normal" >700</text>
<text transform="translate(203.85,415.1) scale(1.05,1.0)" text-anchor="middle" font-size="17.5" font-weight="normal" >800</text>
<text transform="translate(262.18,415.1) scale(1.05,1.0)" text-anchor="middle" font-size="17.5" font-weight="normal" >900</text>
<text transform="translate(320.5,415.1) scale(1.05,1.0)" text-anchor="middle" font-size="17.5" font-weight="normal" >1000</text>
<text transform="translate(204,440) scale(1.05,1.0)" text-anchor="middle" font-size="17.5" font-weight="normal" >Wavelength (nm)</text>
<g transform="translate(15.4,234) rotate(-90)"><rect x="0.35" y="-13.4" width="1.3" height="17.4"/><rect x="40.35" y="-13.4" width="1.3" height="17.4"/><text transform="translate(3.87,0) scale(1,1.118)" font-size="17.42">E</text><text transform="translate(15.4,0) scale(1,1.05)" font-size="17.42">/</text><text transform="translate(20.87,0) scale(1,1.118)" font-size="17.42">E</text><text transform="translate(33.1,6.2) scale(1,1.047)" font-size="10.25">0</text><text transform="translate(43.6,-5.5) scale(1,1.1)" font-size="10.3">2</text></g>
<text transform="translate(0.03,23.4) scale(0.86,1.0)" text-anchor="start" font-size="31" font-weight="bold" >a</text>
<text transform="translate(98.5,61.3) scale(1.05,1.0)" text-anchor="start" font-size="17.5" font-weight="normal" >tROC (nm)</text>
<line x1="105.1" y1="79.3" x2="143.1" y2="79.3" stroke="#c5e0a5" stroke-width="1.3"/>
<text transform="translate(151.5,84.8) scale(1.05,1.0)" text-anchor="start" font-size="17.5" font-weight="normal" >1</text>
<line x1="105.1" y1="105.4" x2="143.1" y2="105.4" stroke="#7fd0df" stroke-width="1.3"/>
<text transform="translate(151.5,110.9) scale(1.05,1.0)" text-anchor="start" font-size="17.5" font-weight="normal" >5</text>
<line x1="105.1" y1="131.9" x2="143.1" y2="131.9" stroke="#c2b0e0" stroke-width="1.3"/>
<text transform="translate(151.5,137.4) scale(1.05,1.0)" text-anchor="start" font-size="17.5" font-weight="normal" >10</text>
<line x1="105.1" y1="158.6" x2="143.1" y2="158.6" stroke="#e0708f" stroke-width="1.3"/>
<text transform="translate(151.5,164.1) scale(1.05,1.0)" text-anchor="start" font-size="17.5" font-weight="normal" >20</text>
<line x1="191.8" y1="55.9" x2="229.4" y2="55.9" stroke="#6a6a6a" stroke-width="1.2" stroke-dasharray="5.2,1"/>
<line x1="191.8" y1="79.6" x2="229.4" y2="79.6" stroke="#6a6a6a" stroke-width="1.2"/>
<text transform="translate(238.2,61.0) scale(1.05,1.0)" text-anchor="start" font-size="17.5" font-weight="normal" >No curve</text>
<text transform="translate(237.8,84.4) scale(1.05,1.0)" text-anchor="start" font-size="17.5" font-weight="normal" >Curved</text>
<text transform="translate(136.5,220) scale(1.05,1.0)" text-anchor="start" font-size="17.5" font-weight="normal" >iv</text>
<text transform="translate(145.5,262.1) scale(1.05,1.0)" text-anchor="start" font-size="17.5" font-weight="normal" >ii</text>
<text transform="translate(177.6,193.6) scale(1.05,1.0)" text-anchor="start" font-size="17.5" font-weight="normal" >i</text>
<text transform="translate(235,147.9) scale(1.05,1.0)" text-anchor="start" font-size="17.5" font-weight="normal" >iii</text>
<g stroke="#000" stroke-opacity="0.47" stroke-width="1.4" fill="none">
<rect x="450.9" y="35.5" width="233.3" height="348.5"/>
<line x1="443.9" y1="384.00" x2="450.9" y2="384.00"/>
<line x1="447.4" y1="349.15" x2="450.9" y2="349.15"/>
<line x1="443.9" y1="314.30" x2="450.9" y2="314.30"/>
<line x1="447.4" y1="279.45" x2="450.9" y2="279.45"/>
<line x1="443.9" y1="244.60" x2="450.9" y2="244.60"/>
<line x1="447.4" y1="209.75" x2="450.9" y2="209.75"/>
<line x1="443.9" y1="174.90" x2="450.9" y2="174.90"/>
<line x1="447.4" y1="140.05" x2="450.9" y2="140.05"/>
<line x1="443.9" y1="105.20" x2="450.9" y2="105.20"/>
<line x1="447.4" y1="70.35" x2="450.9" y2="70.35"/>
<line x1="443.9" y1="35.50" x2="450.9" y2="35.50"/>
<line x1="450.90" y1="384" x2="450.90" y2="390.8"/>
<line x1="506.50" y1="384" x2="506.50" y2="390.8"/>
<line x1="562.10" y1="384" x2="562.10" y2="390.8"/>
<line x1="617.70" y1="384" x2="617.70" y2="390.8"/>
<line x1="673.30" y1="384" x2="673.30" y2="390.8"/>
</g>
<text transform="translate(433.2,390.6) scale(1.05,1.0)" text-anchor="end" font-size="17.5" font-weight="normal" >1000</text>
<text transform="translate(433.2,320.9) scale(1.05,1.0)" text-anchor="end" font-size="17.5" font-weight="normal" >2000</text>
<text transform="translate(433.2,251.2) scale(1.05,1.0)" text-anchor="end" font-size="17.5" font-weight="normal" >3000</text>
<text transform="translate(433.2,181.5) scale(1.05,1.0)" text-anchor="end" font-size="17.5" font-weight="normal" >4000</text>
<text transform="translate(433.2,111.8) scale(1.05,1.0)" text-anchor="end" font-size="17.5" font-weight="normal" >5000</text>
<text transform="translate(433.2,42.1) scale(1.05,1.0)" text-anchor="end" font-size="17.5" font-weight="normal" >6000</text>
<text transform="translate(450.9,415.1) scale(1.05,1.0)" text-anchor="middle" font-size="17.5" font-weight="normal" >0</text>
<text transform="translate(506.5,415.1) scale(1.05,1.0)" text-anchor="middle" font-size="17.5" font-weight="normal" >5</text>
<text transform="translate(562.1,415.1) scale(1.05,1.0)" text-anchor="middle" font-size="17.5" font-weight="normal" >10</text>
<text transform="translate(617.7,415.1) scale(1.05,1.0)" text-anchor="middle" font-size="17.5" font-weight="normal" >15</text>
<text transform="translate(673.3,415.1) scale(1.05,1.0)" text-anchor="middle" font-size="17.5" font-weight="normal" >20</text>
<text transform="translate(567.8,439.6) scale(1.05,1.0)" text-anchor="middle" font-size="17.5" font-weight="normal" >Tip ROC (tROC, nm)</text>
<g transform="translate(379.3,234) rotate(-90)"><rect x="0.35" y="-13.4" width="1.3" height="17.4"/><rect x="40.35" y="-13.4" width="1.3" height="17.4"/><text transform="translate(3.87,0) scale(1,1.118)" font-size="17.42">E</text><text transform="translate(15.4,0) scale(1,1.05)" font-size="17.42">/</text><text transform="translate(20.87,0) scale(1,1.118)" font-size="17.42">E</text><text transform="translate(33.1,6.2) scale(1,1.047)" font-size="10.25">0</text><text transform="translate(43.6,-5.5) scale(1,1.1)" font-size="10.3">2</text></g>
<text transform="translate(328.8,23.3) scale(1.058,1.0)" text-anchor="start" font-size="30" font-weight="bold" >b</text>
<polyline points="462.02,157.82 506.50,197.97 562.10,251.50 673.30,323.01" fill="none" stroke="#f48383" stroke-width="1.05"/>
<circle cx="462.02" cy="157.82" r="2.9" fill="#f48383"/>
<circle cx="506.50" cy="197.97" r="2.9" fill="#f48383"/>
<circle cx="562.10" cy="251.50" r="2.9" fill="#f48383"/>
<circle cx="673.30" cy="323.01" r="2.9" fill="#f48383"/>
<polyline points="462.02,82.69 506.50,261.33 562.10,291.51 673.30,351.31" fill="none" stroke="#5cc8d8" stroke-width="1.05"/>
<circle cx="462.02" cy="82.69" r="2.9" fill="#5cc8d8"/>
<circle cx="506.50" cy="261.33" r="2.9" fill="#5cc8d8"/>
<circle cx="562.10" cy="291.51" r="2.9" fill="#5cc8d8"/>
<circle cx="673.30" cy="351.31" r="2.9" fill="#5cc8d8"/>
<text transform="translate(569.0,63.8) scale(1.05,1.0)" text-anchor="start" font-size="17.5" font-weight="normal" >aROC (nm)</text>
<line x1="553.1" y1="83.4" x2="590.8" y2="83.4" stroke="#f48383" stroke-width="1.0"/><circle cx="571.1" cy="83.4" r="2.9" fill="#f48383"/>
<line x1="553.1" y1="109.2" x2="590.8" y2="109.2" stroke="#5cc8d8" stroke-width="1.0"/><circle cx="571.1" cy="109.2" r="2.9" fill="#5cc8d8"/>
<text transform="translate(605.0,89.3) scale(1.05,1.0)" text-anchor="start" font-size="17.5" font-weight="normal" >No curve</text>
<text transform="translate(604.9,115.6) scale(1.05,1.0)" text-anchor="start" font-size="17.5" font-weight="normal" >400</text>
<text transform="translate(470.2,84.7) scale(1.05,1.0)" text-anchor="start" font-size="17.5" font-weight="normal" >iii</text>
<text transform="translate(461.1,181.5) scale(1.05,1.0)" text-anchor="start" font-size="17.5" font-weight="normal" >i</text>
<text transform="translate(515.1,194.2) scale(1.05,1.0)" text-anchor="start" font-size="17.5" font-weight="normal" >ii</text>
<text transform="translate(499.2,290.8) scale(1.05,1.0)" text-anchor="start" font-size="17.5" font-weight="normal" >iv</text>
</svg></body></html>
